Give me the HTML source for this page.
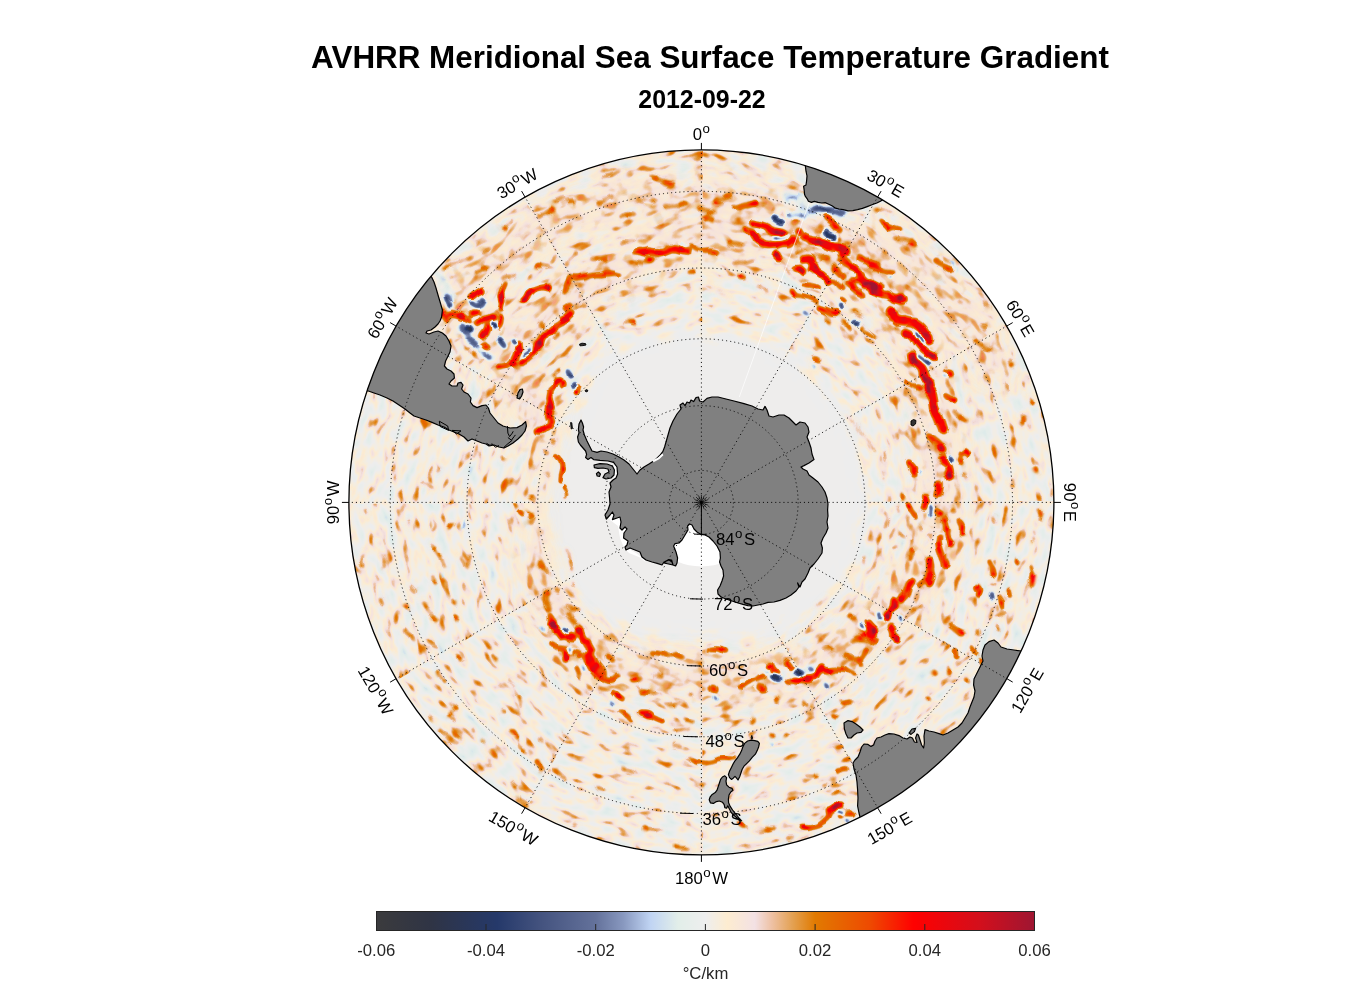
<!DOCTYPE html>
<html><head><meta charset="utf-8"><title>AVHRR Meridional Sea Surface Temperature Gradient</title>
<style>
html,body{margin:0;padding:0;background:#fff;}
body{width:1356px;height:1000px;overflow:hidden;font-family:"Liberation Sans",Arial,sans-serif;}
svg{display:block}
text{font-family:"Liberation Sans",Arial,sans-serif;fill:#000}
.t{font-weight:bold;text-anchor:middle}
.lab{font-size:16.7px;text-anchor:middle}
.plab{font-size:16.7px;text-anchor:start}
.cb{font-size:16.7px;text-anchor:middle;fill:#262626}
.grid{fill:none;stroke:#000;stroke-width:1;stroke-dasharray:1.1 3;stroke-opacity:.9}
</style></head><body>
<svg width="1356" height="1000" viewBox="0 0 1356 1000">

<defs>
<clipPath id="disc"><circle cx="701.4" cy="502.4" r="352.5"/></clipPath>
<linearGradient id="cbg" x1="0" x2="1" y1="0" y2="0">
<stop offset="0.0000" stop-color="#3b3b3d"/>
<stop offset="0.0833" stop-color="#2f3445"/>
<stop offset="0.1833" stop-color="#25396a"/>
<stop offset="0.2500" stop-color="#44537f"/>
<stop offset="0.3333" stop-color="#64729b"/>
<stop offset="0.3750" stop-color="#8898bf"/>
<stop offset="0.4167" stop-color="#c0d4f3"/>
<stop offset="0.4583" stop-color="#e2eee9"/>
<stop offset="0.5000" stop-color="#eeeeee"/>
<stop offset="0.5333" stop-color="#fdecd0"/>
<stop offset="0.5750" stop-color="#f3e1e4"/>
<stop offset="0.6000" stop-color="#eec2a6"/>
<stop offset="0.6333" stop-color="#e3a050"/>
<stop offset="0.6667" stop-color="#e17a00"/>
<stop offset="0.7500" stop-color="#ee4a00"/>
<stop offset="0.8167" stop-color="#ff0000"/>
<stop offset="0.9167" stop-color="#d30f1c"/>
<stop offset="1.0000" stop-color="#9e1632"/>
</linearGradient>
<filter id="fld0" filterUnits="userSpaceOnUse" x="345" y="146" width="713" height="713" color-interpolation-filters="sRGB">
<feTurbulence type="fractalNoise" baseFrequency="0.05 0.105" numOctaves="2" seed="7" result="n"/>
<feColorMatrix in="n" type="matrix" values="1 0 0 0 0 1 0 0 0 0 1 0 0 0 0 0 0 0 0 1" result="ng0"/>
<feComponentTransfer in="ng0" result="ng"><feFuncR type="table" tableValues="0.328 0.328 0.328 0.330 0.342 0.354 0.365 0.377 0.388 0.399 0.410 0.421 0.431 0.441 0.451 0.461 0.470 0.479 0.487 0.494 0.500 0.510 0.526 0.545 0.566 0.589 0.614 0.640 0.668 0.697 0.727 0.758 0.790 0.823 0.857 0.892 0.928 0.964 0.970 0.970 0.970"/><feFuncG type="table" tableValues="0.328 0.328 0.328 0.330 0.342 0.354 0.365 0.377 0.388 0.399 0.410 0.421 0.431 0.441 0.451 0.461 0.470 0.479 0.487 0.494 0.500 0.510 0.526 0.545 0.566 0.589 0.614 0.640 0.668 0.697 0.727 0.758 0.790 0.823 0.857 0.892 0.928 0.964 0.970 0.970 0.970"/><feFuncB type="table" tableValues="0.328 0.328 0.328 0.330 0.342 0.354 0.365 0.377 0.388 0.399 0.410 0.421 0.431 0.441 0.451 0.461 0.470 0.479 0.487 0.494 0.500 0.510 0.526 0.545 0.566 0.589 0.614 0.640 0.668 0.697 0.727 0.758 0.790 0.823 0.857 0.892 0.928 0.964 0.970 0.970 0.970"/></feComponentTransfer>
<feGaussianBlur in="SourceGraphic" stdDeviation="1.306" result="s"/>
<feColorMatrix in="s" type="matrix" values="0.45 0.54 0.6 0 0  0.45 0.54 0.6 0 0  0.45 0.54 0.6 0 0  0 0 0 0 1" result="amp"/>
<feComposite in="ng" in2="amp" operator="arithmetic" k1="1" k2="0" k3="-0.5" k4="0.5" result="nm"/>
<feColorMatrix in="s" type="matrix" values="0.5 0.022 -0.5 0 0.5  0.5 0.022 -0.5 0 0.5  0.5 0.022 -0.5 0 0.5  0 0 0 0 1" result="sb"/>
<feComposite in="nm" in2="sb" operator="arithmetic" k1="0" k2="1" k3="0.72" k4="-0.36" result="u"/>
<feComponentTransfer in="u">
<feFuncR type="table" tableValues="0.231 0.223 0.214 0.205 0.196 0.187 0.180 0.174 0.168 0.162 0.156 0.150 0.153 0.181 0.210 0.238 0.267 0.290 0.314 0.337 0.361 0.384 0.427 0.480 0.533 0.616 0.698 0.770 0.820 0.870 0.898 0.916 0.933 0.961 0.988 0.979 0.965 0.950 0.938 0.921 0.901 0.888 0.885 0.886 0.895 0.905 0.914 0.924 0.933 0.949 0.965 0.980 0.996 0.980 0.953 0.926 0.899 0.872 0.845 0.814 0.775 0.737 0.698 0.659 0.620"/>
<feFuncG type="table" tableValues="0.231 0.226 0.221 0.216 0.211 0.206 0.206 0.209 0.212 0.215 0.218 0.221 0.230 0.254 0.278 0.302 0.325 0.348 0.371 0.394 0.417 0.439 0.484 0.540 0.596 0.684 0.773 0.844 0.882 0.921 0.933 0.933 0.933 0.930 0.926 0.911 0.895 0.867 0.791 0.723 0.661 0.595 0.525 0.467 0.431 0.396 0.361 0.325 0.290 0.222 0.154 0.086 0.018 0.007 0.016 0.025 0.034 0.044 0.053 0.061 0.066 0.071 0.076 0.081 0.086"/>
<feFuncB type="table" tableValues="0.239 0.245 0.251 0.257 0.263 0.269 0.286 0.308 0.331 0.354 0.376 0.399 0.421 0.440 0.459 0.479 0.498 0.519 0.539 0.560 0.580 0.601 0.643 0.696 0.749 0.825 0.902 0.948 0.933 0.919 0.919 0.926 0.933 0.878 0.823 0.841 0.871 0.864 0.712 0.556 0.398 0.245 0.098 0.000 0.000 0.000 0.000 0.000 0.000 0.000 0.000 0.000 0.000 0.013 0.030 0.047 0.064 0.081 0.098 0.115 0.131 0.148 0.164 0.180 0.196"/>
<feFuncA type="linear" slope="0" intercept="1"/>
</feComponentTransfer>
</filter>

<filter id="fld1" filterUnits="userSpaceOnUse" x="345" y="146" width="713" height="713" color-interpolation-filters="sRGB">
<feTurbulence type="fractalNoise" baseFrequency="0.05 0.105" numOctaves="2" seed="10" result="n"/>
<feColorMatrix in="n" type="matrix" values="1 0 0 0 0 1 0 0 0 0 1 0 0 0 0 0 0 0 0 1" result="ng0"/>
<feComponentTransfer in="ng0" result="ng"><feFuncR type="table" tableValues="0.328 0.328 0.328 0.330 0.342 0.354 0.365 0.377 0.388 0.399 0.410 0.421 0.431 0.441 0.451 0.461 0.470 0.479 0.487 0.494 0.500 0.510 0.526 0.545 0.566 0.589 0.614 0.640 0.668 0.697 0.727 0.758 0.790 0.823 0.857 0.892 0.928 0.964 0.970 0.970 0.970"/><feFuncG type="table" tableValues="0.328 0.328 0.328 0.330 0.342 0.354 0.365 0.377 0.388 0.399 0.410 0.421 0.431 0.441 0.451 0.461 0.470 0.479 0.487 0.494 0.500 0.510 0.526 0.545 0.566 0.589 0.614 0.640 0.668 0.697 0.727 0.758 0.790 0.823 0.857 0.892 0.928 0.964 0.970 0.970 0.970"/><feFuncB type="table" tableValues="0.328 0.328 0.328 0.330 0.342 0.354 0.365 0.377 0.388 0.399 0.410 0.421 0.431 0.441 0.451 0.461 0.470 0.479 0.487 0.494 0.500 0.510 0.526 0.545 0.566 0.589 0.614 0.640 0.668 0.697 0.727 0.758 0.790 0.823 0.857 0.892 0.928 0.964 0.970 0.970 0.970"/></feComponentTransfer>
<feGaussianBlur in="SourceGraphic" stdDeviation="1.131" result="s"/>
<feColorMatrix in="s" type="matrix" values="0.45 0.54 0.6 0 0  0.45 0.54 0.6 0 0  0.45 0.54 0.6 0 0  0 0 0 0 1" result="amp"/>
<feComposite in="ng" in2="amp" operator="arithmetic" k1="1" k2="0" k3="-0.5" k4="0.5" result="nm"/>
<feColorMatrix in="s" type="matrix" values="0.5 0.022 -0.5 0 0.5  0.5 0.022 -0.5 0 0.5  0.5 0.022 -0.5 0 0.5  0 0 0 0 1" result="sb"/>
<feComposite in="nm" in2="sb" operator="arithmetic" k1="0" k2="1" k3="0.72" k4="-0.36" result="u"/>
<feComponentTransfer in="u">
<feFuncR type="table" tableValues="0.231 0.223 0.214 0.205 0.196 0.187 0.180 0.174 0.168 0.162 0.156 0.150 0.153 0.181 0.210 0.238 0.267 0.290 0.314 0.337 0.361 0.384 0.427 0.480 0.533 0.616 0.698 0.770 0.820 0.870 0.898 0.916 0.933 0.961 0.988 0.979 0.965 0.950 0.938 0.921 0.901 0.888 0.885 0.886 0.895 0.905 0.914 0.924 0.933 0.949 0.965 0.980 0.996 0.980 0.953 0.926 0.899 0.872 0.845 0.814 0.775 0.737 0.698 0.659 0.620"/>
<feFuncG type="table" tableValues="0.231 0.226 0.221 0.216 0.211 0.206 0.206 0.209 0.212 0.215 0.218 0.221 0.230 0.254 0.278 0.302 0.325 0.348 0.371 0.394 0.417 0.439 0.484 0.540 0.596 0.684 0.773 0.844 0.882 0.921 0.933 0.933 0.933 0.930 0.926 0.911 0.895 0.867 0.791 0.723 0.661 0.595 0.525 0.467 0.431 0.396 0.361 0.325 0.290 0.222 0.154 0.086 0.018 0.007 0.016 0.025 0.034 0.044 0.053 0.061 0.066 0.071 0.076 0.081 0.086"/>
<feFuncB type="table" tableValues="0.239 0.245 0.251 0.257 0.263 0.269 0.286 0.308 0.331 0.354 0.376 0.399 0.421 0.440 0.459 0.479 0.498 0.519 0.539 0.560 0.580 0.601 0.643 0.696 0.749 0.825 0.902 0.948 0.933 0.919 0.919 0.926 0.933 0.878 0.823 0.841 0.871 0.864 0.712 0.556 0.398 0.245 0.098 0.000 0.000 0.000 0.000 0.000 0.000 0.000 0.000 0.000 0.000 0.013 0.030 0.047 0.064 0.081 0.098 0.115 0.131 0.148 0.164 0.180 0.196"/>
<feFuncA type="linear" slope="0" intercept="1"/>
</feComponentTransfer>
</filter>

<filter id="fld2" filterUnits="userSpaceOnUse" x="345" y="146" width="713" height="713" color-interpolation-filters="sRGB">
<feTurbulence type="fractalNoise" baseFrequency="0.05 0.105" numOctaves="2" seed="13" result="n"/>
<feColorMatrix in="n" type="matrix" values="1 0 0 0 0 1 0 0 0 0 1 0 0 0 0 0 0 0 0 1" result="ng0"/>
<feComponentTransfer in="ng0" result="ng"><feFuncR type="table" tableValues="0.328 0.328 0.328 0.330 0.342 0.354 0.365 0.377 0.388 0.399 0.410 0.421 0.431 0.441 0.451 0.461 0.470 0.479 0.487 0.494 0.500 0.510 0.526 0.545 0.566 0.589 0.614 0.640 0.668 0.697 0.727 0.758 0.790 0.823 0.857 0.892 0.928 0.964 0.970 0.970 0.970"/><feFuncG type="table" tableValues="0.328 0.328 0.328 0.330 0.342 0.354 0.365 0.377 0.388 0.399 0.410 0.421 0.431 0.441 0.451 0.461 0.470 0.479 0.487 0.494 0.500 0.510 0.526 0.545 0.566 0.589 0.614 0.640 0.668 0.697 0.727 0.758 0.790 0.823 0.857 0.892 0.928 0.964 0.970 0.970 0.970"/><feFuncB type="table" tableValues="0.328 0.328 0.328 0.330 0.342 0.354 0.365 0.377 0.388 0.399 0.410 0.421 0.431 0.441 0.451 0.461 0.470 0.479 0.487 0.494 0.500 0.510 0.526 0.545 0.566 0.589 0.614 0.640 0.668 0.697 0.727 0.758 0.790 0.823 0.857 0.892 0.928 0.964 0.970 0.970 0.970"/></feComponentTransfer>
<feGaussianBlur in="SourceGraphic" stdDeviation="1.306" result="s"/>
<feColorMatrix in="s" type="matrix" values="0.45 0.54 0.6 0 0  0.45 0.54 0.6 0 0  0.45 0.54 0.6 0 0  0 0 0 0 1" result="amp"/>
<feComposite in="ng" in2="amp" operator="arithmetic" k1="1" k2="0" k3="-0.5" k4="0.5" result="nm"/>
<feColorMatrix in="s" type="matrix" values="0.5 0.022 -0.5 0 0.5  0.5 0.022 -0.5 0 0.5  0.5 0.022 -0.5 0 0.5  0 0 0 0 1" result="sb"/>
<feComposite in="nm" in2="sb" operator="arithmetic" k1="0" k2="1" k3="0.72" k4="-0.36" result="u"/>
<feComponentTransfer in="u">
<feFuncR type="table" tableValues="0.231 0.223 0.214 0.205 0.196 0.187 0.180 0.174 0.168 0.162 0.156 0.150 0.153 0.181 0.210 0.238 0.267 0.290 0.314 0.337 0.361 0.384 0.427 0.480 0.533 0.616 0.698 0.770 0.820 0.870 0.898 0.916 0.933 0.961 0.988 0.979 0.965 0.950 0.938 0.921 0.901 0.888 0.885 0.886 0.895 0.905 0.914 0.924 0.933 0.949 0.965 0.980 0.996 0.980 0.953 0.926 0.899 0.872 0.845 0.814 0.775 0.737 0.698 0.659 0.620"/>
<feFuncG type="table" tableValues="0.231 0.226 0.221 0.216 0.211 0.206 0.206 0.209 0.212 0.215 0.218 0.221 0.230 0.254 0.278 0.302 0.325 0.348 0.371 0.394 0.417 0.439 0.484 0.540 0.596 0.684 0.773 0.844 0.882 0.921 0.933 0.933 0.933 0.930 0.926 0.911 0.895 0.867 0.791 0.723 0.661 0.595 0.525 0.467 0.431 0.396 0.361 0.325 0.290 0.222 0.154 0.086 0.018 0.007 0.016 0.025 0.034 0.044 0.053 0.061 0.066 0.071 0.076 0.081 0.086"/>
<feFuncB type="table" tableValues="0.239 0.245 0.251 0.257 0.263 0.269 0.286 0.308 0.331 0.354 0.376 0.399 0.421 0.440 0.459 0.479 0.498 0.519 0.539 0.560 0.580 0.601 0.643 0.696 0.749 0.825 0.902 0.948 0.933 0.919 0.919 0.926 0.933 0.878 0.823 0.841 0.871 0.864 0.712 0.556 0.398 0.245 0.098 0.000 0.000 0.000 0.000 0.000 0.000 0.000 0.000 0.000 0.000 0.013 0.030 0.047 0.064 0.081 0.098 0.115 0.131 0.148 0.164 0.180 0.196"/>
<feFuncA type="linear" slope="0" intercept="1"/>
</feComponentTransfer>
</filter>

<filter id="fld3" filterUnits="userSpaceOnUse" x="345" y="146" width="713" height="713" color-interpolation-filters="sRGB">
<feTurbulence type="fractalNoise" baseFrequency="0.05 0.105" numOctaves="2" seed="16" result="n"/>
<feColorMatrix in="n" type="matrix" values="1 0 0 0 0 1 0 0 0 0 1 0 0 0 0 0 0 0 0 1" result="ng0"/>
<feComponentTransfer in="ng0" result="ng"><feFuncR type="table" tableValues="0.328 0.328 0.328 0.330 0.342 0.354 0.365 0.377 0.388 0.399 0.410 0.421 0.431 0.441 0.451 0.461 0.470 0.479 0.487 0.494 0.500 0.510 0.526 0.545 0.566 0.589 0.614 0.640 0.668 0.697 0.727 0.758 0.790 0.823 0.857 0.892 0.928 0.964 0.970 0.970 0.970"/><feFuncG type="table" tableValues="0.328 0.328 0.328 0.330 0.342 0.354 0.365 0.377 0.388 0.399 0.410 0.421 0.431 0.441 0.451 0.461 0.470 0.479 0.487 0.494 0.500 0.510 0.526 0.545 0.566 0.589 0.614 0.640 0.668 0.697 0.727 0.758 0.790 0.823 0.857 0.892 0.928 0.964 0.970 0.970 0.970"/><feFuncB type="table" tableValues="0.328 0.328 0.328 0.330 0.342 0.354 0.365 0.377 0.388 0.399 0.410 0.421 0.431 0.441 0.451 0.461 0.470 0.479 0.487 0.494 0.500 0.510 0.526 0.545 0.566 0.589 0.614 0.640 0.668 0.697 0.727 0.758 0.790 0.823 0.857 0.892 0.928 0.964 0.970 0.970 0.970"/></feComponentTransfer>
<feGaussianBlur in="SourceGraphic" stdDeviation="1.306" result="s"/>
<feColorMatrix in="s" type="matrix" values="0.45 0.54 0.6 0 0  0.45 0.54 0.6 0 0  0.45 0.54 0.6 0 0  0 0 0 0 1" result="amp"/>
<feComposite in="ng" in2="amp" operator="arithmetic" k1="1" k2="0" k3="-0.5" k4="0.5" result="nm"/>
<feColorMatrix in="s" type="matrix" values="0.5 0.022 -0.5 0 0.5  0.5 0.022 -0.5 0 0.5  0.5 0.022 -0.5 0 0.5  0 0 0 0 1" result="sb"/>
<feComposite in="nm" in2="sb" operator="arithmetic" k1="0" k2="1" k3="0.72" k4="-0.36" result="u"/>
<feComponentTransfer in="u">
<feFuncR type="table" tableValues="0.231 0.223 0.214 0.205 0.196 0.187 0.180 0.174 0.168 0.162 0.156 0.150 0.153 0.181 0.210 0.238 0.267 0.290 0.314 0.337 0.361 0.384 0.427 0.480 0.533 0.616 0.698 0.770 0.820 0.870 0.898 0.916 0.933 0.961 0.988 0.979 0.965 0.950 0.938 0.921 0.901 0.888 0.885 0.886 0.895 0.905 0.914 0.924 0.933 0.949 0.965 0.980 0.996 0.980 0.953 0.926 0.899 0.872 0.845 0.814 0.775 0.737 0.698 0.659 0.620"/>
<feFuncG type="table" tableValues="0.231 0.226 0.221 0.216 0.211 0.206 0.206 0.209 0.212 0.215 0.218 0.221 0.230 0.254 0.278 0.302 0.325 0.348 0.371 0.394 0.417 0.439 0.484 0.540 0.596 0.684 0.773 0.844 0.882 0.921 0.933 0.933 0.933 0.930 0.926 0.911 0.895 0.867 0.791 0.723 0.661 0.595 0.525 0.467 0.431 0.396 0.361 0.325 0.290 0.222 0.154 0.086 0.018 0.007 0.016 0.025 0.034 0.044 0.053 0.061 0.066 0.071 0.076 0.081 0.086"/>
<feFuncB type="table" tableValues="0.239 0.245 0.251 0.257 0.263 0.269 0.286 0.308 0.331 0.354 0.376 0.399 0.421 0.440 0.459 0.479 0.498 0.519 0.539 0.560 0.580 0.601 0.643 0.696 0.749 0.825 0.902 0.948 0.933 0.919 0.919 0.926 0.933 0.878 0.823 0.841 0.871 0.864 0.712 0.556 0.398 0.245 0.098 0.000 0.000 0.000 0.000 0.000 0.000 0.000 0.000 0.000 0.000 0.013 0.030 0.047 0.064 0.081 0.098 0.115 0.131 0.148 0.164 0.180 0.196"/>
<feFuncA type="linear" slope="0" intercept="1"/>
</feComponentTransfer>
</filter>

<filter id="fld4" filterUnits="userSpaceOnUse" x="345" y="146" width="713" height="713" color-interpolation-filters="sRGB">
<feTurbulence type="fractalNoise" baseFrequency="0.05 0.105" numOctaves="2" seed="19" result="n"/>
<feColorMatrix in="n" type="matrix" values="1 0 0 0 0 1 0 0 0 0 1 0 0 0 0 0 0 0 0 1" result="ng0"/>
<feComponentTransfer in="ng0" result="ng"><feFuncR type="table" tableValues="0.328 0.328 0.328 0.330 0.342 0.354 0.365 0.377 0.388 0.399 0.410 0.421 0.431 0.441 0.451 0.461 0.470 0.479 0.487 0.494 0.500 0.510 0.526 0.545 0.566 0.589 0.614 0.640 0.668 0.697 0.727 0.758 0.790 0.823 0.857 0.892 0.928 0.964 0.970 0.970 0.970"/><feFuncG type="table" tableValues="0.328 0.328 0.328 0.330 0.342 0.354 0.365 0.377 0.388 0.399 0.410 0.421 0.431 0.441 0.451 0.461 0.470 0.479 0.487 0.494 0.500 0.510 0.526 0.545 0.566 0.589 0.614 0.640 0.668 0.697 0.727 0.758 0.790 0.823 0.857 0.892 0.928 0.964 0.970 0.970 0.970"/><feFuncB type="table" tableValues="0.328 0.328 0.328 0.330 0.342 0.354 0.365 0.377 0.388 0.399 0.410 0.421 0.431 0.441 0.451 0.461 0.470 0.479 0.487 0.494 0.500 0.510 0.526 0.545 0.566 0.589 0.614 0.640 0.668 0.697 0.727 0.758 0.790 0.823 0.857 0.892 0.928 0.964 0.970 0.970 0.970"/></feComponentTransfer>
<feGaussianBlur in="SourceGraphic" stdDeviation="1.131" result="s"/>
<feColorMatrix in="s" type="matrix" values="0.45 0.54 0.6 0 0  0.45 0.54 0.6 0 0  0.45 0.54 0.6 0 0  0 0 0 0 1" result="amp"/>
<feComposite in="ng" in2="amp" operator="arithmetic" k1="1" k2="0" k3="-0.5" k4="0.5" result="nm"/>
<feColorMatrix in="s" type="matrix" values="0.5 0.022 -0.5 0 0.5  0.5 0.022 -0.5 0 0.5  0.5 0.022 -0.5 0 0.5  0 0 0 0 1" result="sb"/>
<feComposite in="nm" in2="sb" operator="arithmetic" k1="0" k2="1" k3="0.72" k4="-0.36" result="u"/>
<feComponentTransfer in="u">
<feFuncR type="table" tableValues="0.231 0.223 0.214 0.205 0.196 0.187 0.180 0.174 0.168 0.162 0.156 0.150 0.153 0.181 0.210 0.238 0.267 0.290 0.314 0.337 0.361 0.384 0.427 0.480 0.533 0.616 0.698 0.770 0.820 0.870 0.898 0.916 0.933 0.961 0.988 0.979 0.965 0.950 0.938 0.921 0.901 0.888 0.885 0.886 0.895 0.905 0.914 0.924 0.933 0.949 0.965 0.980 0.996 0.980 0.953 0.926 0.899 0.872 0.845 0.814 0.775 0.737 0.698 0.659 0.620"/>
<feFuncG type="table" tableValues="0.231 0.226 0.221 0.216 0.211 0.206 0.206 0.209 0.212 0.215 0.218 0.221 0.230 0.254 0.278 0.302 0.325 0.348 0.371 0.394 0.417 0.439 0.484 0.540 0.596 0.684 0.773 0.844 0.882 0.921 0.933 0.933 0.933 0.930 0.926 0.911 0.895 0.867 0.791 0.723 0.661 0.595 0.525 0.467 0.431 0.396 0.361 0.325 0.290 0.222 0.154 0.086 0.018 0.007 0.016 0.025 0.034 0.044 0.053 0.061 0.066 0.071 0.076 0.081 0.086"/>
<feFuncB type="table" tableValues="0.239 0.245 0.251 0.257 0.263 0.269 0.286 0.308 0.331 0.354 0.376 0.399 0.421 0.440 0.459 0.479 0.498 0.519 0.539 0.560 0.580 0.601 0.643 0.696 0.749 0.825 0.902 0.948 0.933 0.919 0.919 0.926 0.933 0.878 0.823 0.841 0.871 0.864 0.712 0.556 0.398 0.245 0.098 0.000 0.000 0.000 0.000 0.000 0.000 0.000 0.000 0.000 0.000 0.013 0.030 0.047 0.064 0.081 0.098 0.115 0.131 0.148 0.164 0.180 0.196"/>
<feFuncA type="linear" slope="0" intercept="1"/>
</feComponentTransfer>
</filter>

<filter id="fld5" filterUnits="userSpaceOnUse" x="345" y="146" width="713" height="713" color-interpolation-filters="sRGB">
<feTurbulence type="fractalNoise" baseFrequency="0.05 0.105" numOctaves="2" seed="22" result="n"/>
<feColorMatrix in="n" type="matrix" values="1 0 0 0 0 1 0 0 0 0 1 0 0 0 0 0 0 0 0 1" result="ng0"/>
<feComponentTransfer in="ng0" result="ng"><feFuncR type="table" tableValues="0.328 0.328 0.328 0.330 0.342 0.354 0.365 0.377 0.388 0.399 0.410 0.421 0.431 0.441 0.451 0.461 0.470 0.479 0.487 0.494 0.500 0.510 0.526 0.545 0.566 0.589 0.614 0.640 0.668 0.697 0.727 0.758 0.790 0.823 0.857 0.892 0.928 0.964 0.970 0.970 0.970"/><feFuncG type="table" tableValues="0.328 0.328 0.328 0.330 0.342 0.354 0.365 0.377 0.388 0.399 0.410 0.421 0.431 0.441 0.451 0.461 0.470 0.479 0.487 0.494 0.500 0.510 0.526 0.545 0.566 0.589 0.614 0.640 0.668 0.697 0.727 0.758 0.790 0.823 0.857 0.892 0.928 0.964 0.970 0.970 0.970"/><feFuncB type="table" tableValues="0.328 0.328 0.328 0.330 0.342 0.354 0.365 0.377 0.388 0.399 0.410 0.421 0.431 0.441 0.451 0.461 0.470 0.479 0.487 0.494 0.500 0.510 0.526 0.545 0.566 0.589 0.614 0.640 0.668 0.697 0.727 0.758 0.790 0.823 0.857 0.892 0.928 0.964 0.970 0.970 0.970"/></feComponentTransfer>
<feGaussianBlur in="SourceGraphic" stdDeviation="1.306" result="s"/>
<feColorMatrix in="s" type="matrix" values="0.45 0.54 0.6 0 0  0.45 0.54 0.6 0 0  0.45 0.54 0.6 0 0  0 0 0 0 1" result="amp"/>
<feComposite in="ng" in2="amp" operator="arithmetic" k1="1" k2="0" k3="-0.5" k4="0.5" result="nm"/>
<feColorMatrix in="s" type="matrix" values="0.5 0.022 -0.5 0 0.5  0.5 0.022 -0.5 0 0.5  0.5 0.022 -0.5 0 0.5  0 0 0 0 1" result="sb"/>
<feComposite in="nm" in2="sb" operator="arithmetic" k1="0" k2="1" k3="0.72" k4="-0.36" result="u"/>
<feComponentTransfer in="u">
<feFuncR type="table" tableValues="0.231 0.223 0.214 0.205 0.196 0.187 0.180 0.174 0.168 0.162 0.156 0.150 0.153 0.181 0.210 0.238 0.267 0.290 0.314 0.337 0.361 0.384 0.427 0.480 0.533 0.616 0.698 0.770 0.820 0.870 0.898 0.916 0.933 0.961 0.988 0.979 0.965 0.950 0.938 0.921 0.901 0.888 0.885 0.886 0.895 0.905 0.914 0.924 0.933 0.949 0.965 0.980 0.996 0.980 0.953 0.926 0.899 0.872 0.845 0.814 0.775 0.737 0.698 0.659 0.620"/>
<feFuncG type="table" tableValues="0.231 0.226 0.221 0.216 0.211 0.206 0.206 0.209 0.212 0.215 0.218 0.221 0.230 0.254 0.278 0.302 0.325 0.348 0.371 0.394 0.417 0.439 0.484 0.540 0.596 0.684 0.773 0.844 0.882 0.921 0.933 0.933 0.933 0.930 0.926 0.911 0.895 0.867 0.791 0.723 0.661 0.595 0.525 0.467 0.431 0.396 0.361 0.325 0.290 0.222 0.154 0.086 0.018 0.007 0.016 0.025 0.034 0.044 0.053 0.061 0.066 0.071 0.076 0.081 0.086"/>
<feFuncB type="table" tableValues="0.239 0.245 0.251 0.257 0.263 0.269 0.286 0.308 0.331 0.354 0.376 0.399 0.421 0.440 0.459 0.479 0.498 0.519 0.539 0.560 0.580 0.601 0.643 0.696 0.749 0.825 0.902 0.948 0.933 0.919 0.919 0.926 0.933 0.878 0.823 0.841 0.871 0.864 0.712 0.556 0.398 0.245 0.098 0.000 0.000 0.000 0.000 0.000 0.000 0.000 0.000 0.000 0.000 0.013 0.030 0.047 0.064 0.081 0.098 0.115 0.131 0.148 0.164 0.180 0.196"/>
<feFuncA type="linear" slope="0" intercept="1"/>
</feComponentTransfer>
</filter>

<filter id="fld6" filterUnits="userSpaceOnUse" x="345" y="146" width="713" height="713" color-interpolation-filters="sRGB">
<feTurbulence type="fractalNoise" baseFrequency="0.05 0.105" numOctaves="2" seed="25" result="n"/>
<feColorMatrix in="n" type="matrix" values="1 0 0 0 0 1 0 0 0 0 1 0 0 0 0 0 0 0 0 1" result="ng0"/>
<feComponentTransfer in="ng0" result="ng"><feFuncR type="table" tableValues="0.328 0.328 0.328 0.330 0.342 0.354 0.365 0.377 0.388 0.399 0.410 0.421 0.431 0.441 0.451 0.461 0.470 0.479 0.487 0.494 0.500 0.510 0.526 0.545 0.566 0.589 0.614 0.640 0.668 0.697 0.727 0.758 0.790 0.823 0.857 0.892 0.928 0.964 0.970 0.970 0.970"/><feFuncG type="table" tableValues="0.328 0.328 0.328 0.330 0.342 0.354 0.365 0.377 0.388 0.399 0.410 0.421 0.431 0.441 0.451 0.461 0.470 0.479 0.487 0.494 0.500 0.510 0.526 0.545 0.566 0.589 0.614 0.640 0.668 0.697 0.727 0.758 0.790 0.823 0.857 0.892 0.928 0.964 0.970 0.970 0.970"/><feFuncB type="table" tableValues="0.328 0.328 0.328 0.330 0.342 0.354 0.365 0.377 0.388 0.399 0.410 0.421 0.431 0.441 0.451 0.461 0.470 0.479 0.487 0.494 0.500 0.510 0.526 0.545 0.566 0.589 0.614 0.640 0.668 0.697 0.727 0.758 0.790 0.823 0.857 0.892 0.928 0.964 0.970 0.970 0.970"/></feComponentTransfer>
<feGaussianBlur in="SourceGraphic" stdDeviation="1.306" result="s"/>
<feColorMatrix in="s" type="matrix" values="0.45 0.54 0.6 0 0  0.45 0.54 0.6 0 0  0.45 0.54 0.6 0 0  0 0 0 0 1" result="amp"/>
<feComposite in="ng" in2="amp" operator="arithmetic" k1="1" k2="0" k3="-0.5" k4="0.5" result="nm"/>
<feColorMatrix in="s" type="matrix" values="0.5 0.022 -0.5 0 0.5  0.5 0.022 -0.5 0 0.5  0.5 0.022 -0.5 0 0.5  0 0 0 0 1" result="sb"/>
<feComposite in="nm" in2="sb" operator="arithmetic" k1="0" k2="1" k3="0.72" k4="-0.36" result="u"/>
<feComponentTransfer in="u">
<feFuncR type="table" tableValues="0.231 0.223 0.214 0.205 0.196 0.187 0.180 0.174 0.168 0.162 0.156 0.150 0.153 0.181 0.210 0.238 0.267 0.290 0.314 0.337 0.361 0.384 0.427 0.480 0.533 0.616 0.698 0.770 0.820 0.870 0.898 0.916 0.933 0.961 0.988 0.979 0.965 0.950 0.938 0.921 0.901 0.888 0.885 0.886 0.895 0.905 0.914 0.924 0.933 0.949 0.965 0.980 0.996 0.980 0.953 0.926 0.899 0.872 0.845 0.814 0.775 0.737 0.698 0.659 0.620"/>
<feFuncG type="table" tableValues="0.231 0.226 0.221 0.216 0.211 0.206 0.206 0.209 0.212 0.215 0.218 0.221 0.230 0.254 0.278 0.302 0.325 0.348 0.371 0.394 0.417 0.439 0.484 0.540 0.596 0.684 0.773 0.844 0.882 0.921 0.933 0.933 0.933 0.930 0.926 0.911 0.895 0.867 0.791 0.723 0.661 0.595 0.525 0.467 0.431 0.396 0.361 0.325 0.290 0.222 0.154 0.086 0.018 0.007 0.016 0.025 0.034 0.044 0.053 0.061 0.066 0.071 0.076 0.081 0.086"/>
<feFuncB type="table" tableValues="0.239 0.245 0.251 0.257 0.263 0.269 0.286 0.308 0.331 0.354 0.376 0.399 0.421 0.440 0.459 0.479 0.498 0.519 0.539 0.560 0.580 0.601 0.643 0.696 0.749 0.825 0.902 0.948 0.933 0.919 0.919 0.926 0.933 0.878 0.823 0.841 0.871 0.864 0.712 0.556 0.398 0.245 0.098 0.000 0.000 0.000 0.000 0.000 0.000 0.000 0.000 0.000 0.000 0.013 0.030 0.047 0.064 0.081 0.098 0.115 0.131 0.148 0.164 0.180 0.196"/>
<feFuncA type="linear" slope="0" intercept="1"/>
</feComponentTransfer>
</filter>

<filter id="fld7" filterUnits="userSpaceOnUse" x="345" y="146" width="713" height="713" color-interpolation-filters="sRGB">
<feTurbulence type="fractalNoise" baseFrequency="0.05 0.105" numOctaves="2" seed="28" result="n"/>
<feColorMatrix in="n" type="matrix" values="1 0 0 0 0 1 0 0 0 0 1 0 0 0 0 0 0 0 0 1" result="ng0"/>
<feComponentTransfer in="ng0" result="ng"><feFuncR type="table" tableValues="0.328 0.328 0.328 0.330 0.342 0.354 0.365 0.377 0.388 0.399 0.410 0.421 0.431 0.441 0.451 0.461 0.470 0.479 0.487 0.494 0.500 0.510 0.526 0.545 0.566 0.589 0.614 0.640 0.668 0.697 0.727 0.758 0.790 0.823 0.857 0.892 0.928 0.964 0.970 0.970 0.970"/><feFuncG type="table" tableValues="0.328 0.328 0.328 0.330 0.342 0.354 0.365 0.377 0.388 0.399 0.410 0.421 0.431 0.441 0.451 0.461 0.470 0.479 0.487 0.494 0.500 0.510 0.526 0.545 0.566 0.589 0.614 0.640 0.668 0.697 0.727 0.758 0.790 0.823 0.857 0.892 0.928 0.964 0.970 0.970 0.970"/><feFuncB type="table" tableValues="0.328 0.328 0.328 0.330 0.342 0.354 0.365 0.377 0.388 0.399 0.410 0.421 0.431 0.441 0.451 0.461 0.470 0.479 0.487 0.494 0.500 0.510 0.526 0.545 0.566 0.589 0.614 0.640 0.668 0.697 0.727 0.758 0.790 0.823 0.857 0.892 0.928 0.964 0.970 0.970 0.970"/></feComponentTransfer>
<feGaussianBlur in="SourceGraphic" stdDeviation="1.131" result="s"/>
<feColorMatrix in="s" type="matrix" values="0.45 0.54 0.6 0 0  0.45 0.54 0.6 0 0  0.45 0.54 0.6 0 0  0 0 0 0 1" result="amp"/>
<feComposite in="ng" in2="amp" operator="arithmetic" k1="1" k2="0" k3="-0.5" k4="0.5" result="nm"/>
<feColorMatrix in="s" type="matrix" values="0.5 0.022 -0.5 0 0.5  0.5 0.022 -0.5 0 0.5  0.5 0.022 -0.5 0 0.5  0 0 0 0 1" result="sb"/>
<feComposite in="nm" in2="sb" operator="arithmetic" k1="0" k2="1" k3="0.72" k4="-0.36" result="u"/>
<feComponentTransfer in="u">
<feFuncR type="table" tableValues="0.231 0.223 0.214 0.205 0.196 0.187 0.180 0.174 0.168 0.162 0.156 0.150 0.153 0.181 0.210 0.238 0.267 0.290 0.314 0.337 0.361 0.384 0.427 0.480 0.533 0.616 0.698 0.770 0.820 0.870 0.898 0.916 0.933 0.961 0.988 0.979 0.965 0.950 0.938 0.921 0.901 0.888 0.885 0.886 0.895 0.905 0.914 0.924 0.933 0.949 0.965 0.980 0.996 0.980 0.953 0.926 0.899 0.872 0.845 0.814 0.775 0.737 0.698 0.659 0.620"/>
<feFuncG type="table" tableValues="0.231 0.226 0.221 0.216 0.211 0.206 0.206 0.209 0.212 0.215 0.218 0.221 0.230 0.254 0.278 0.302 0.325 0.348 0.371 0.394 0.417 0.439 0.484 0.540 0.596 0.684 0.773 0.844 0.882 0.921 0.933 0.933 0.933 0.930 0.926 0.911 0.895 0.867 0.791 0.723 0.661 0.595 0.525 0.467 0.431 0.396 0.361 0.325 0.290 0.222 0.154 0.086 0.018 0.007 0.016 0.025 0.034 0.044 0.053 0.061 0.066 0.071 0.076 0.081 0.086"/>
<feFuncB type="table" tableValues="0.239 0.245 0.251 0.257 0.263 0.269 0.286 0.308 0.331 0.354 0.376 0.399 0.421 0.440 0.459 0.479 0.498 0.519 0.539 0.560 0.580 0.601 0.643 0.696 0.749 0.825 0.902 0.948 0.933 0.919 0.919 0.926 0.933 0.878 0.823 0.841 0.871 0.864 0.712 0.556 0.398 0.245 0.098 0.000 0.000 0.000 0.000 0.000 0.000 0.000 0.000 0.000 0.000 0.013 0.030 0.047 0.064 0.081 0.098 0.115 0.131 0.148 0.164 0.180 0.196"/>
<feFuncA type="linear" slope="0" intercept="1"/>
</feComponentTransfer>
</filter>

<filter id="fld8" filterUnits="userSpaceOnUse" x="345" y="146" width="713" height="713" color-interpolation-filters="sRGB">
<feTurbulence type="fractalNoise" baseFrequency="0.05 0.105" numOctaves="2" seed="31" result="n"/>
<feColorMatrix in="n" type="matrix" values="1 0 0 0 0 1 0 0 0 0 1 0 0 0 0 0 0 0 0 1" result="ng0"/>
<feComponentTransfer in="ng0" result="ng"><feFuncR type="table" tableValues="0.328 0.328 0.328 0.330 0.342 0.354 0.365 0.377 0.388 0.399 0.410 0.421 0.431 0.441 0.451 0.461 0.470 0.479 0.487 0.494 0.500 0.510 0.526 0.545 0.566 0.589 0.614 0.640 0.668 0.697 0.727 0.758 0.790 0.823 0.857 0.892 0.928 0.964 0.970 0.970 0.970"/><feFuncG type="table" tableValues="0.328 0.328 0.328 0.330 0.342 0.354 0.365 0.377 0.388 0.399 0.410 0.421 0.431 0.441 0.451 0.461 0.470 0.479 0.487 0.494 0.500 0.510 0.526 0.545 0.566 0.589 0.614 0.640 0.668 0.697 0.727 0.758 0.790 0.823 0.857 0.892 0.928 0.964 0.970 0.970 0.970"/><feFuncB type="table" tableValues="0.328 0.328 0.328 0.330 0.342 0.354 0.365 0.377 0.388 0.399 0.410 0.421 0.431 0.441 0.451 0.461 0.470 0.479 0.487 0.494 0.500 0.510 0.526 0.545 0.566 0.589 0.614 0.640 0.668 0.697 0.727 0.758 0.790 0.823 0.857 0.892 0.928 0.964 0.970 0.970 0.970"/></feComponentTransfer>
<feGaussianBlur in="SourceGraphic" stdDeviation="1.306" result="s"/>
<feColorMatrix in="s" type="matrix" values="0.45 0.54 0.6 0 0  0.45 0.54 0.6 0 0  0.45 0.54 0.6 0 0  0 0 0 0 1" result="amp"/>
<feComposite in="ng" in2="amp" operator="arithmetic" k1="1" k2="0" k3="-0.5" k4="0.5" result="nm"/>
<feColorMatrix in="s" type="matrix" values="0.5 0.022 -0.5 0 0.5  0.5 0.022 -0.5 0 0.5  0.5 0.022 -0.5 0 0.5  0 0 0 0 1" result="sb"/>
<feComposite in="nm" in2="sb" operator="arithmetic" k1="0" k2="1" k3="0.72" k4="-0.36" result="u"/>
<feComponentTransfer in="u">
<feFuncR type="table" tableValues="0.231 0.223 0.214 0.205 0.196 0.187 0.180 0.174 0.168 0.162 0.156 0.150 0.153 0.181 0.210 0.238 0.267 0.290 0.314 0.337 0.361 0.384 0.427 0.480 0.533 0.616 0.698 0.770 0.820 0.870 0.898 0.916 0.933 0.961 0.988 0.979 0.965 0.950 0.938 0.921 0.901 0.888 0.885 0.886 0.895 0.905 0.914 0.924 0.933 0.949 0.965 0.980 0.996 0.980 0.953 0.926 0.899 0.872 0.845 0.814 0.775 0.737 0.698 0.659 0.620"/>
<feFuncG type="table" tableValues="0.231 0.226 0.221 0.216 0.211 0.206 0.206 0.209 0.212 0.215 0.218 0.221 0.230 0.254 0.278 0.302 0.325 0.348 0.371 0.394 0.417 0.439 0.484 0.540 0.596 0.684 0.773 0.844 0.882 0.921 0.933 0.933 0.933 0.930 0.926 0.911 0.895 0.867 0.791 0.723 0.661 0.595 0.525 0.467 0.431 0.396 0.361 0.325 0.290 0.222 0.154 0.086 0.018 0.007 0.016 0.025 0.034 0.044 0.053 0.061 0.066 0.071 0.076 0.081 0.086"/>
<feFuncB type="table" tableValues="0.239 0.245 0.251 0.257 0.263 0.269 0.286 0.308 0.331 0.354 0.376 0.399 0.421 0.440 0.459 0.479 0.498 0.519 0.539 0.560 0.580 0.601 0.643 0.696 0.749 0.825 0.902 0.948 0.933 0.919 0.919 0.926 0.933 0.878 0.823 0.841 0.871 0.864 0.712 0.556 0.398 0.245 0.098 0.000 0.000 0.000 0.000 0.000 0.000 0.000 0.000 0.000 0.000 0.013 0.030 0.047 0.064 0.081 0.098 0.115 0.131 0.148 0.164 0.180 0.196"/>
<feFuncA type="linear" slope="0" intercept="1"/>
</feComponentTransfer>
</filter>

<filter id="fld9" filterUnits="userSpaceOnUse" x="345" y="146" width="713" height="713" color-interpolation-filters="sRGB">
<feTurbulence type="fractalNoise" baseFrequency="0.05 0.105" numOctaves="2" seed="34" result="n"/>
<feColorMatrix in="n" type="matrix" values="1 0 0 0 0 1 0 0 0 0 1 0 0 0 0 0 0 0 0 1" result="ng0"/>
<feComponentTransfer in="ng0" result="ng"><feFuncR type="table" tableValues="0.328 0.328 0.328 0.330 0.342 0.354 0.365 0.377 0.388 0.399 0.410 0.421 0.431 0.441 0.451 0.461 0.470 0.479 0.487 0.494 0.500 0.510 0.526 0.545 0.566 0.589 0.614 0.640 0.668 0.697 0.727 0.758 0.790 0.823 0.857 0.892 0.928 0.964 0.970 0.970 0.970"/><feFuncG type="table" tableValues="0.328 0.328 0.328 0.330 0.342 0.354 0.365 0.377 0.388 0.399 0.410 0.421 0.431 0.441 0.451 0.461 0.470 0.479 0.487 0.494 0.500 0.510 0.526 0.545 0.566 0.589 0.614 0.640 0.668 0.697 0.727 0.758 0.790 0.823 0.857 0.892 0.928 0.964 0.970 0.970 0.970"/><feFuncB type="table" tableValues="0.328 0.328 0.328 0.330 0.342 0.354 0.365 0.377 0.388 0.399 0.410 0.421 0.431 0.441 0.451 0.461 0.470 0.479 0.487 0.494 0.500 0.510 0.526 0.545 0.566 0.589 0.614 0.640 0.668 0.697 0.727 0.758 0.790 0.823 0.857 0.892 0.928 0.964 0.970 0.970 0.970"/></feComponentTransfer>
<feGaussianBlur in="SourceGraphic" stdDeviation="1.306" result="s"/>
<feColorMatrix in="s" type="matrix" values="0.45 0.54 0.6 0 0  0.45 0.54 0.6 0 0  0.45 0.54 0.6 0 0  0 0 0 0 1" result="amp"/>
<feComposite in="ng" in2="amp" operator="arithmetic" k1="1" k2="0" k3="-0.5" k4="0.5" result="nm"/>
<feColorMatrix in="s" type="matrix" values="0.5 0.022 -0.5 0 0.5  0.5 0.022 -0.5 0 0.5  0.5 0.022 -0.5 0 0.5  0 0 0 0 1" result="sb"/>
<feComposite in="nm" in2="sb" operator="arithmetic" k1="0" k2="1" k3="0.72" k4="-0.36" result="u"/>
<feComponentTransfer in="u">
<feFuncR type="table" tableValues="0.231 0.223 0.214 0.205 0.196 0.187 0.180 0.174 0.168 0.162 0.156 0.150 0.153 0.181 0.210 0.238 0.267 0.290 0.314 0.337 0.361 0.384 0.427 0.480 0.533 0.616 0.698 0.770 0.820 0.870 0.898 0.916 0.933 0.961 0.988 0.979 0.965 0.950 0.938 0.921 0.901 0.888 0.885 0.886 0.895 0.905 0.914 0.924 0.933 0.949 0.965 0.980 0.996 0.980 0.953 0.926 0.899 0.872 0.845 0.814 0.775 0.737 0.698 0.659 0.620"/>
<feFuncG type="table" tableValues="0.231 0.226 0.221 0.216 0.211 0.206 0.206 0.209 0.212 0.215 0.218 0.221 0.230 0.254 0.278 0.302 0.325 0.348 0.371 0.394 0.417 0.439 0.484 0.540 0.596 0.684 0.773 0.844 0.882 0.921 0.933 0.933 0.933 0.930 0.926 0.911 0.895 0.867 0.791 0.723 0.661 0.595 0.525 0.467 0.431 0.396 0.361 0.325 0.290 0.222 0.154 0.086 0.018 0.007 0.016 0.025 0.034 0.044 0.053 0.061 0.066 0.071 0.076 0.081 0.086"/>
<feFuncB type="table" tableValues="0.239 0.245 0.251 0.257 0.263 0.269 0.286 0.308 0.331 0.354 0.376 0.399 0.421 0.440 0.459 0.479 0.498 0.519 0.539 0.560 0.580 0.601 0.643 0.696 0.749 0.825 0.902 0.948 0.933 0.919 0.919 0.926 0.933 0.878 0.823 0.841 0.871 0.864 0.712 0.556 0.398 0.245 0.098 0.000 0.000 0.000 0.000 0.000 0.000 0.000 0.000 0.000 0.000 0.013 0.030 0.047 0.064 0.081 0.098 0.115 0.131 0.148 0.164 0.180 0.196"/>
<feFuncA type="linear" slope="0" intercept="1"/>
</feComponentTransfer>
</filter>

<filter id="fld10" filterUnits="userSpaceOnUse" x="345" y="146" width="713" height="713" color-interpolation-filters="sRGB">
<feTurbulence type="fractalNoise" baseFrequency="0.05 0.105" numOctaves="2" seed="37" result="n"/>
<feColorMatrix in="n" type="matrix" values="1 0 0 0 0 1 0 0 0 0 1 0 0 0 0 0 0 0 0 1" result="ng0"/>
<feComponentTransfer in="ng0" result="ng"><feFuncR type="table" tableValues="0.328 0.328 0.328 0.330 0.342 0.354 0.365 0.377 0.388 0.399 0.410 0.421 0.431 0.441 0.451 0.461 0.470 0.479 0.487 0.494 0.500 0.510 0.526 0.545 0.566 0.589 0.614 0.640 0.668 0.697 0.727 0.758 0.790 0.823 0.857 0.892 0.928 0.964 0.970 0.970 0.970"/><feFuncG type="table" tableValues="0.328 0.328 0.328 0.330 0.342 0.354 0.365 0.377 0.388 0.399 0.410 0.421 0.431 0.441 0.451 0.461 0.470 0.479 0.487 0.494 0.500 0.510 0.526 0.545 0.566 0.589 0.614 0.640 0.668 0.697 0.727 0.758 0.790 0.823 0.857 0.892 0.928 0.964 0.970 0.970 0.970"/><feFuncB type="table" tableValues="0.328 0.328 0.328 0.330 0.342 0.354 0.365 0.377 0.388 0.399 0.410 0.421 0.431 0.441 0.451 0.461 0.470 0.479 0.487 0.494 0.500 0.510 0.526 0.545 0.566 0.589 0.614 0.640 0.668 0.697 0.727 0.758 0.790 0.823 0.857 0.892 0.928 0.964 0.970 0.970 0.970"/></feComponentTransfer>
<feGaussianBlur in="SourceGraphic" stdDeviation="1.131" result="s"/>
<feColorMatrix in="s" type="matrix" values="0.45 0.54 0.6 0 0  0.45 0.54 0.6 0 0  0.45 0.54 0.6 0 0  0 0 0 0 1" result="amp"/>
<feComposite in="ng" in2="amp" operator="arithmetic" k1="1" k2="0" k3="-0.5" k4="0.5" result="nm"/>
<feColorMatrix in="s" type="matrix" values="0.5 0.022 -0.5 0 0.5  0.5 0.022 -0.5 0 0.5  0.5 0.022 -0.5 0 0.5  0 0 0 0 1" result="sb"/>
<feComposite in="nm" in2="sb" operator="arithmetic" k1="0" k2="1" k3="0.72" k4="-0.36" result="u"/>
<feComponentTransfer in="u">
<feFuncR type="table" tableValues="0.231 0.223 0.214 0.205 0.196 0.187 0.180 0.174 0.168 0.162 0.156 0.150 0.153 0.181 0.210 0.238 0.267 0.290 0.314 0.337 0.361 0.384 0.427 0.480 0.533 0.616 0.698 0.770 0.820 0.870 0.898 0.916 0.933 0.961 0.988 0.979 0.965 0.950 0.938 0.921 0.901 0.888 0.885 0.886 0.895 0.905 0.914 0.924 0.933 0.949 0.965 0.980 0.996 0.980 0.953 0.926 0.899 0.872 0.845 0.814 0.775 0.737 0.698 0.659 0.620"/>
<feFuncG type="table" tableValues="0.231 0.226 0.221 0.216 0.211 0.206 0.206 0.209 0.212 0.215 0.218 0.221 0.230 0.254 0.278 0.302 0.325 0.348 0.371 0.394 0.417 0.439 0.484 0.540 0.596 0.684 0.773 0.844 0.882 0.921 0.933 0.933 0.933 0.930 0.926 0.911 0.895 0.867 0.791 0.723 0.661 0.595 0.525 0.467 0.431 0.396 0.361 0.325 0.290 0.222 0.154 0.086 0.018 0.007 0.016 0.025 0.034 0.044 0.053 0.061 0.066 0.071 0.076 0.081 0.086"/>
<feFuncB type="table" tableValues="0.239 0.245 0.251 0.257 0.263 0.269 0.286 0.308 0.331 0.354 0.376 0.399 0.421 0.440 0.459 0.479 0.498 0.519 0.539 0.560 0.580 0.601 0.643 0.696 0.749 0.825 0.902 0.948 0.933 0.919 0.919 0.926 0.933 0.878 0.823 0.841 0.871 0.864 0.712 0.556 0.398 0.245 0.098 0.000 0.000 0.000 0.000 0.000 0.000 0.000 0.000 0.000 0.000 0.013 0.030 0.047 0.064 0.081 0.098 0.115 0.131 0.148 0.164 0.180 0.196"/>
<feFuncA type="linear" slope="0" intercept="1"/>
</feComponentTransfer>
</filter>

<filter id="fld11" filterUnits="userSpaceOnUse" x="345" y="146" width="713" height="713" color-interpolation-filters="sRGB">
<feTurbulence type="fractalNoise" baseFrequency="0.05 0.105" numOctaves="2" seed="40" result="n"/>
<feColorMatrix in="n" type="matrix" values="1 0 0 0 0 1 0 0 0 0 1 0 0 0 0 0 0 0 0 1" result="ng0"/>
<feComponentTransfer in="ng0" result="ng"><feFuncR type="table" tableValues="0.328 0.328 0.328 0.330 0.342 0.354 0.365 0.377 0.388 0.399 0.410 0.421 0.431 0.441 0.451 0.461 0.470 0.479 0.487 0.494 0.500 0.510 0.526 0.545 0.566 0.589 0.614 0.640 0.668 0.697 0.727 0.758 0.790 0.823 0.857 0.892 0.928 0.964 0.970 0.970 0.970"/><feFuncG type="table" tableValues="0.328 0.328 0.328 0.330 0.342 0.354 0.365 0.377 0.388 0.399 0.410 0.421 0.431 0.441 0.451 0.461 0.470 0.479 0.487 0.494 0.500 0.510 0.526 0.545 0.566 0.589 0.614 0.640 0.668 0.697 0.727 0.758 0.790 0.823 0.857 0.892 0.928 0.964 0.970 0.970 0.970"/><feFuncB type="table" tableValues="0.328 0.328 0.328 0.330 0.342 0.354 0.365 0.377 0.388 0.399 0.410 0.421 0.431 0.441 0.451 0.461 0.470 0.479 0.487 0.494 0.500 0.510 0.526 0.545 0.566 0.589 0.614 0.640 0.668 0.697 0.727 0.758 0.790 0.823 0.857 0.892 0.928 0.964 0.970 0.970 0.970"/></feComponentTransfer>
<feGaussianBlur in="SourceGraphic" stdDeviation="1.306" result="s"/>
<feColorMatrix in="s" type="matrix" values="0.45 0.54 0.6 0 0  0.45 0.54 0.6 0 0  0.45 0.54 0.6 0 0  0 0 0 0 1" result="amp"/>
<feComposite in="ng" in2="amp" operator="arithmetic" k1="1" k2="0" k3="-0.5" k4="0.5" result="nm"/>
<feColorMatrix in="s" type="matrix" values="0.5 0.022 -0.5 0 0.5  0.5 0.022 -0.5 0 0.5  0.5 0.022 -0.5 0 0.5  0 0 0 0 1" result="sb"/>
<feComposite in="nm" in2="sb" operator="arithmetic" k1="0" k2="1" k3="0.72" k4="-0.36" result="u"/>
<feComponentTransfer in="u">
<feFuncR type="table" tableValues="0.231 0.223 0.214 0.205 0.196 0.187 0.180 0.174 0.168 0.162 0.156 0.150 0.153 0.181 0.210 0.238 0.267 0.290 0.314 0.337 0.361 0.384 0.427 0.480 0.533 0.616 0.698 0.770 0.820 0.870 0.898 0.916 0.933 0.961 0.988 0.979 0.965 0.950 0.938 0.921 0.901 0.888 0.885 0.886 0.895 0.905 0.914 0.924 0.933 0.949 0.965 0.980 0.996 0.980 0.953 0.926 0.899 0.872 0.845 0.814 0.775 0.737 0.698 0.659 0.620"/>
<feFuncG type="table" tableValues="0.231 0.226 0.221 0.216 0.211 0.206 0.206 0.209 0.212 0.215 0.218 0.221 0.230 0.254 0.278 0.302 0.325 0.348 0.371 0.394 0.417 0.439 0.484 0.540 0.596 0.684 0.773 0.844 0.882 0.921 0.933 0.933 0.933 0.930 0.926 0.911 0.895 0.867 0.791 0.723 0.661 0.595 0.525 0.467 0.431 0.396 0.361 0.325 0.290 0.222 0.154 0.086 0.018 0.007 0.016 0.025 0.034 0.044 0.053 0.061 0.066 0.071 0.076 0.081 0.086"/>
<feFuncB type="table" tableValues="0.239 0.245 0.251 0.257 0.263 0.269 0.286 0.308 0.331 0.354 0.376 0.399 0.421 0.440 0.459 0.479 0.498 0.519 0.539 0.560 0.580 0.601 0.643 0.696 0.749 0.825 0.902 0.948 0.933 0.919 0.919 0.926 0.933 0.878 0.823 0.841 0.871 0.864 0.712 0.556 0.398 0.245 0.098 0.000 0.000 0.000 0.000 0.000 0.000 0.000 0.000 0.000 0.000 0.013 0.030 0.047 0.064 0.081 0.098 0.115 0.131 0.148 0.164 0.180 0.196"/>
<feFuncA type="linear" slope="0" intercept="1"/>
</feComponentTransfer>
</filter>

<filter id="fldm" filterUnits="userSpaceOnUse" x="345" y="146" width="713" height="713" color-interpolation-filters="sRGB">
<feTurbulence type="fractalNoise" baseFrequency="0.075" numOctaves="2" seed="7" result="n"/>
<feColorMatrix in="n" type="matrix" values="1 0 0 0 0 1 0 0 0 0 1 0 0 0 0 0 0 0 0 1" result="ng0"/>
<feComponentTransfer in="ng0" result="ng"><feFuncR type="table" tableValues="0.328 0.328 0.328 0.330 0.342 0.354 0.365 0.377 0.388 0.399 0.410 0.421 0.431 0.441 0.451 0.461 0.470 0.479 0.487 0.494 0.500 0.510 0.526 0.545 0.566 0.589 0.614 0.640 0.668 0.697 0.727 0.758 0.790 0.823 0.857 0.892 0.928 0.964 0.970 0.970 0.970"/><feFuncG type="table" tableValues="0.328 0.328 0.328 0.330 0.342 0.354 0.365 0.377 0.388 0.399 0.410 0.421 0.431 0.441 0.451 0.461 0.470 0.479 0.487 0.494 0.500 0.510 0.526 0.545 0.566 0.589 0.614 0.640 0.668 0.697 0.727 0.758 0.790 0.823 0.857 0.892 0.928 0.964 0.970 0.970 0.970"/><feFuncB type="table" tableValues="0.328 0.328 0.328 0.330 0.342 0.354 0.365 0.377 0.388 0.399 0.410 0.421 0.431 0.441 0.451 0.461 0.470 0.479 0.487 0.494 0.500 0.510 0.526 0.545 0.566 0.589 0.614 0.640 0.668 0.697 0.727 0.758 0.790 0.823 0.857 0.892 0.928 0.964 0.970 0.970 0.970"/></feComponentTransfer>
<feTurbulence type="fractalNoise" baseFrequency="0.035" numOctaves="2" seed="11" result="dn"/>
<feGaussianBlur in="SourceGraphic" stdDeviation="1.6" result="s0"/>
<feDisplacementMap in="s0" in2="dn" scale="7" xChannelSelector="R" yChannelSelector="G" result="s"/>
<feColorMatrix in="s" type="matrix" values="0.45 0.44 0.6 0 0  0.45 0.44 0.6 0 0  0.45 0.44 0.6 0 0  0 0 0 0 1" result="amp"/>
<feComposite in="ng" in2="amp" operator="arithmetic" k1="1" k2="0" k3="-0.5" k4="0.5" result="nm"/>
<feColorMatrix in="s" type="matrix" values="0.5 0.022 -0.5 0 0.5  0.5 0.022 -0.5 0 0.5  0.5 0.022 -0.5 0 0.5  0 0 0 0 1" result="sb"/>
<feComposite in="nm" in2="sb" operator="arithmetic" k1="0" k2="1" k3="0.72" k4="-0.36" result="u"/>
<feComponentTransfer in="u" result="col">
<feFuncR type="table" tableValues="0.231 0.223 0.214 0.205 0.196 0.187 0.180 0.174 0.168 0.162 0.156 0.150 0.153 0.181 0.210 0.238 0.267 0.290 0.314 0.337 0.361 0.384 0.427 0.480 0.533 0.616 0.698 0.770 0.820 0.870 0.898 0.916 0.933 0.961 0.988 0.979 0.965 0.950 0.938 0.921 0.901 0.888 0.885 0.886 0.895 0.905 0.914 0.924 0.933 0.949 0.965 0.980 0.996 0.980 0.953 0.926 0.899 0.872 0.845 0.814 0.775 0.737 0.698 0.659 0.620"/>
<feFuncG type="table" tableValues="0.231 0.226 0.221 0.216 0.211 0.206 0.206 0.209 0.212 0.215 0.218 0.221 0.230 0.254 0.278 0.302 0.325 0.348 0.371 0.394 0.417 0.439 0.484 0.540 0.596 0.684 0.773 0.844 0.882 0.921 0.933 0.933 0.933 0.930 0.926 0.911 0.895 0.867 0.791 0.723 0.661 0.595 0.525 0.467 0.431 0.396 0.361 0.325 0.290 0.222 0.154 0.086 0.018 0.007 0.016 0.025 0.034 0.044 0.053 0.061 0.066 0.071 0.076 0.081 0.086"/>
<feFuncB type="table" tableValues="0.239 0.245 0.251 0.257 0.263 0.269 0.286 0.308 0.331 0.354 0.376 0.399 0.421 0.440 0.459 0.479 0.498 0.519 0.539 0.560 0.580 0.601 0.643 0.696 0.749 0.825 0.902 0.948 0.933 0.919 0.919 0.926 0.933 0.878 0.823 0.841 0.871 0.864 0.712 0.556 0.398 0.245 0.098 0.000 0.000 0.000 0.000 0.000 0.000 0.000 0.000 0.000 0.000 0.013 0.030 0.047 0.064 0.081 0.098 0.115 0.131 0.148 0.164 0.180 0.196"/>
<feFuncA type="linear" slope="0" intercept="1"/>
</feComponentTransfer>
<feColorMatrix in="s" type="matrix" values="0 0 0 0 0 0 0 0 0 0 0 0 0 0 0 3.5 0 3.5 0 0" result="am"/>
<feComposite in="col" in2="am" operator="in"/>
</filter>

<filter id="softb" filterUnits="userSpaceOnUse" x="345" y="146" width="713" height="713"><feGaussianBlur stdDeviation="1.3"/></filter>
<filter id="actb" filterUnits="userSpaceOnUse" x="345" y="146" width="713" height="713"><feGaussianBlur stdDeviation="10"/></filter>
<filter id="iceblur" filterUnits="userSpaceOnUse" x="345" y="146" width="713" height="713"><feGaussianBlur stdDeviation="9"/></filter>
</defs>
<g opacity="0.999">
<text class="t" x="710" y="67.6" font-size="31.4">AVHRR Meridional Sea Surface Temperature Gradient</text>
<text class="t" x="702" y="108" font-size="24.9">2012-09-22</text>
</g>
<g clip-path="url(#disc)">
<circle cx="701.4" cy="502.4" r="354.5" fill="#fbefdf"/>
<defs><g id="srcb">
<rect x="339" y="140" width="725" height="725" fill="#00ff00"/>
<g filter="url(#actb)" fill="none" stroke="#ffff00" stroke-linecap="round" stroke-linejoin="round"><path d="M544.2,418.8 490.2,337.4 549.2,327.3 576.4,285.9 617.9,273.1 665.5,246.9 739.0,235.0 797.2,239.3 879.5,290.2 914.3,330.0 924.4,378.8 936.3,416.9 940.5,481.5 939.9,548.8 906.0,593.5 874.2,623.4 831.9,657.9 800.9,674.7 774.1,673.6 740.3,685.3 701.4,670.4 656.1,671.4 590.7,660.5 548.8,601.5 546.9,543.8 561.1,480.2 553.1,442.5 544.2,418.8Z" stroke-width="46" stroke-opacity="0.13"/><path d="M436.1,323.5 476.5,277.5 542.4,227.0 646.5,191.2 755.2,197.1 828.2,230.5 905.8,258.8 967.6,316.0 993.2,366.3" stroke-width="40" stroke-opacity="0.12"/></g>
<path d="M701.4,328.4 716.6,328.9 731.7,330.6 746.7,333.4 761.4,337.5 775.7,343.0 789.4,350.0 802.2,358.4 813.9,368.3 824.4,379.4 833.9,391.2 842.5,403.6 850.4,416.4 857.0,429.9 861.9,444.0 865.1,458.5 867.1,473.2 868.1,487.8 868.4,502.4 867.8,517.0 866.1,531.4 863.2,545.8 859.0,559.8 853.6,573.4 846.9,586.4 838.1,598.1 827.0,607.8 814.5,615.5 801.7,621.9 789.2,627.8 777.4,634.0 765.2,639.3 752.2,641.9 738.9,642.5 726.0,641.8 713.5,640.8 701.4,640.4 689.3,640.7 676.9,641.3 664.1,641.5 651.1,640.5 638.3,637.6 626.4,632.3 615.0,625.8 603.4,619.2 591.8,612.0 580.7,603.6 570.9,593.8 562.8,582.4 556.5,570.0 551.5,557.0 547.8,543.6 545.3,529.9 543.9,516.2 543.4,502.4 544.2,488.6 546.5,475.1 550.2,461.9 555.0,449.1 560.7,436.8 567.2,424.9 573.0,412.5 577.7,398.6 582.6,383.6 589.2,368.7 598.6,355.6 610.9,345.6 625.1,338.8 640.1,334.0 655.5,330.9 670.9,329.3 686.2,328.6Z" fill="#000" filter="url(#iceblur)"/>
</g>
<g id="strk"><g fill="none" stroke-linecap="round" stroke-linejoin="round"><g filter="url(#softb)"><path d="M470.5,299.4 476.3,294.5 482.3,291.2" stroke="#00ffff" stroke-width="11.0" stroke-opacity="0.13"/>
<path d="M523.5,300.5 528.0,294.5 534.9,289.6 541.0,287.3 549.8,287.3" stroke="#00ffff" stroke-width="10.5" stroke-opacity="0.13"/>
<path d="M550.5,329.3 554.9,324.6 561.4,321.0 566.2,316.6 570.9,313.4" stroke="#00ffff" stroke-width="11.5" stroke-opacity="0.13"/>
<path d="M535.7,348.8 539.9,343.5 542.7,337.3 548.0,330.6" stroke="#00ffff" stroke-width="11.0" stroke-opacity="0.13"/>
<path d="M513.3,362.4 515.0,356.7 518.3,350.2 519.0,344.8" stroke="#00ffff" stroke-width="11.0" stroke-opacity="0.13"/>
<path d="M473.4,314.5 477.3,313.4" stroke="#00ffff" stroke-width="11.0" stroke-opacity="0.13"/>
<path d="M478.8,323.7 483.3,321.1 486.4,319.3 491.8,318.1" stroke="#00ffff" stroke-width="11.0" stroke-opacity="0.13"/>
<path d="M482.8,336.0 486.9,331.2 489.2,325.9" stroke="#00ffff" stroke-width="11.0" stroke-opacity="0.13"/>
<path d="M497.5,329.0 500.3,322.7 500.9,317.7" stroke="#00ffff" stroke-width="10.0" stroke-opacity="0.13"/>
<path d="M480.8,347.2 484.6,345.6" stroke="#00ffff" stroke-width="11.0" stroke-opacity="0.13"/>
<path d="M552.8,390.1 554.7,383.1 559.4,379.4" stroke="#00ffff" stroke-width="10.0" stroke-opacity="0.13"/>
<path d="M562.2,386.0 563.5,382.6" stroke="#00ffff" stroke-width="10.0" stroke-opacity="0.13"/>
<path d="M576.7,391.5 578.1,386.1" stroke="#00ffff" stroke-width="10.0" stroke-opacity="0.13"/>
<path d="M446.5,267.9 452.5,263.6 461.1,259.5 471.4,256.8" stroke="#ffff00" stroke-width="5" stroke-opacity="0.38"/>
<path d="M477.0,271.8 482.4,269.9 488.5,267.6" stroke="#ffff00" stroke-width="5" stroke-opacity="0.38"/>
<path d="M536.1,265.0 543.2,265.5 552.3,267.1" stroke="#ffff00" stroke-width="5" stroke-opacity="0.38"/>
<path d="M503.8,279.0 509.6,276.3 515.2,275.3" stroke="#ffff00" stroke-width="5" stroke-opacity="0.38"/>
<path d="M540.1,216.1 546.5,212.0 552.3,209.8" stroke="#ffff00" stroke-width="5" stroke-opacity="0.38"/>
<path d="M555.9,202.0 561.7,198.8 568.8,200.2 573.3,200.0" stroke="#ffff00" stroke-width="5" stroke-opacity="0.38"/>
<path d="M598.9,204.0 606.0,200.7 611.4,197.5" stroke="#ffff00" stroke-width="5" stroke-opacity="0.38"/>
<path d="M621.5,217.1 627.7,214.1 634.5,215.5" stroke="#ffff00" stroke-width="5" stroke-opacity="0.38"/>
<path d="M603.4,177.9 613.6,175.6 620.3,172.9" stroke="#ffff00" stroke-width="5" stroke-opacity="0.38"/>
<path d="M566.2,264.6 569.8,259.4 575.4,255.4 577.8,252.9" stroke="#ffff00" stroke-width="5" stroke-opacity="0.38"/>
<path d="M591.2,259.4 598.2,258.2 604.9,259.9" stroke="#ffff00" stroke-width="5" stroke-opacity="0.38"/>
<path d="M504.0,226.9 509.2,223.3 514.0,221.5" stroke="#ffff00" stroke-width="5" stroke-opacity="0.38"/>
<path d="M482.9,252.7 488.2,249.4" stroke="#ffff00" stroke-width="5" stroke-opacity="0.38"/>
<path d="M619.2,244.9 627.8,241.9 634.5,243.3" stroke="#ffff00" stroke-width="5" stroke-opacity="0.38"/>
<path d="M574.2,309.9 579.0,308.4 586.0,306.9" stroke="#ffff00" stroke-width="5" stroke-opacity="0.38"/>
<path d="M622.0,323.0 628.5,322.2 633.8,322.4" stroke="#ffff00" stroke-width="5" stroke-opacity="0.38"/>
<path d="M605.2,324.2 613.3,323.6" stroke="#ffff00" stroke-width="5" stroke-opacity="0.38"/>
<path d="M462.1,340.9 465.2,347.4 472.8,354.3 477.7,358.8" stroke="#ffff00" stroke-width="4" stroke-opacity="0.34"/>
<path d="M449.9,339.0 454.3,347.7 457.7,355.3" stroke="#ffff00" stroke-width="4" stroke-opacity="0.34"/>
<path d="M554.2,336.9 557.8,332.2" stroke="#ffff00" stroke-width="5" stroke-opacity="0.38"/>
<path d="M539.3,324.5 541.0,322.2" stroke="#ffff00" stroke-width="5" stroke-opacity="0.38"/>
<path d="M553.7,373.9 558.3,371.3" stroke="#ffff00" stroke-width="5" stroke-opacity="0.38"/>
<path d="M639.4,250.7 643.6,252.2 650.1,251.8 655.3,251.8 660.8,252.6 665.9,250.7 668.9,248.9 674.5,249.3 679.2,250.1 686.8,250.6" stroke="#00ffff" stroke-width="11.0" stroke-opacity="0.13"/>
<path d="M753.7,222.9 762.3,225.3 767.3,226.6 769.8,230.1 775.0,231.7 784.1,233.7" stroke="#00ffff" stroke-width="11.0" stroke-opacity="0.13"/>
<path d="M754.0,234.8 759.5,241.1 764.8,244.2 771.4,245.5 781.3,243.6 788.6,243.3 793.6,238.6" stroke="#00ffff" stroke-width="11.5" stroke-opacity="0.13"/>
<path d="M799.3,232.1 803.5,236.5 813.4,240.3 820.4,241.0 826.8,241.7 835.0,244.3 842.9,247.2 847.4,250.9" stroke="#00ffff" stroke-width="11.5" stroke-opacity="0.13"/>
<path d="M803.8,259.6 808.3,258.8 811.5,259.9" stroke="#00ffff" stroke-width="12.0" stroke-opacity="0.13"/>
<path d="M796.0,267.6 801.2,268.1 803.8,270.5" stroke="#00ffff" stroke-width="11.0" stroke-opacity="0.13"/>
<path d="M812.1,268.9 817.0,270.4 822.7,274.1 826.5,277.1 828.0,282.4" stroke="#00ffff" stroke-width="11.0" stroke-opacity="0.13"/>
<path d="M853.1,268.0 857.8,274.0 860.6,277.3 864.2,281.9 872.2,283.8 881.5,286.7" stroke="#00ffff" stroke-width="11.0" stroke-opacity="0.13"/>
<path d="M873.5,289.6 879.5,293.0 884.4,294.5 889.7,295.1" stroke="#00ffff" stroke-width="12.0" stroke-opacity="0.13"/>
<path d="M776.1,254.5 778.8,258.2" stroke="#00ffff" stroke-width="11.0" stroke-opacity="0.13"/>
<path d="M842.0,320.5 846.8,326.1 848.7,329.2" stroke="#ffff00" stroke-width="5" stroke-opacity="0.42"/>
<path d="M651.1,175.3 657.1,178.3 664.3,181.6 672.5,183.9" stroke="#ffff00" stroke-width="5" stroke-opacity="0.38"/>
<path d="M639.3,200.4 647.0,202.1 653.1,201.5" stroke="#ffff00" stroke-width="5" stroke-opacity="0.38"/>
<path d="M665.9,205.1 668.9,205.3 673.8,206.6 680.3,205.1 685.1,203.2" stroke="#ffff00" stroke-width="5" stroke-opacity="0.38"/>
<path d="M701.0,208.5 711.2,210.9" stroke="#ffff00" stroke-width="5" stroke-opacity="0.38"/>
<path d="M705.6,217.2 711.7,218.0" stroke="#ffff00" stroke-width="5" stroke-opacity="0.38"/>
<path d="M715.8,200.4 723.2,199.1 728.5,196.7" stroke="#ffff00" stroke-width="5" stroke-opacity="0.38"/>
<path d="M638.6,262.3 647.0,262.2 653.0,261.0" stroke="#ffff00" stroke-width="5" stroke-opacity="0.38"/>
<path d="M728.5,244.0 734.6,244.7 739.7,246.7" stroke="#ffff00" stroke-width="5" stroke-opacity="0.38"/>
<path d="M734.6,263.4 741.5,262.6 745.5,263.5 750.3,261.5 754.2,259.7" stroke="#ffff00" stroke-width="5" stroke-opacity="0.38"/>
<path d="M688.7,273.9 694.8,272.2" stroke="#ffff00" stroke-width="5" stroke-opacity="0.38"/>
<path d="M740.7,276.7 746.0,279.6" stroke="#ffff00" stroke-width="5" stroke-opacity="0.38"/>
<path d="M703.0,286.4 707.5,288.2 711.6,289.8 720.3,293.5 728.2,298.1" stroke="#ffff00" stroke-width="4" stroke-opacity="0.26"/>
<path d="M786.7,267.8 790.7,273.2 794.1,276.2" stroke="#ffff00" stroke-width="5" stroke-opacity="0.42"/>
<path d="M759.0,285.6 763.3,287.8 766.5,291.5" stroke="#ffff00" stroke-width="5" stroke-opacity="0.38"/>
<path d="M860.7,325.9 864.3,330.5 872.3,335.3" stroke="#ffff00" stroke-width="5" stroke-opacity="0.38"/>
<path d="M814.2,358.1 819.8,361.0" stroke="#ffff00" stroke-width="5" stroke-opacity="0.38"/>
<path d="M797.4,252.3 802.2,251.1" stroke="#ffff00" stroke-width="5" stroke-opacity="0.38"/>
<path d="M815.4,254.7 821.0,257.5 827.8,258.6" stroke="#ffff00" stroke-width="5" stroke-opacity="0.38"/>
<path d="M835.6,267.1 836.6,272.0" stroke="#ffff00" stroke-width="5" stroke-opacity="0.38"/>
<path d="M809.9,240.2 818.8,239.9 823.7,243.3 832.6,246.9 840.9,248.5 844.6,252.0" stroke="#00ffff" stroke-width="11.5" stroke-opacity="0.13"/>
<path d="M853.1,275.6 859.0,279.2 864.4,282.7 872.3,285.0 877.9,289.0 882.0,293.5 890.0,296.3 897.9,299.4 904.8,299.6" stroke="#00ffff" stroke-width="11.5" stroke-opacity="0.13"/>
<path d="M809.8,258.8 813.4,264.6 816.6,268.8 821.4,274.2" stroke="#00ffff" stroke-width="11.0" stroke-opacity="0.13"/>
<path d="M890.7,310.0 894.5,317.6 898.5,321.0 907.8,322.1 915.6,323.4 920.6,326.5 924.9,333.8 928.9,340.1" stroke="#00ffff" stroke-width="13.0" stroke-opacity="0.13"/>
<path d="M907.6,332.3 912.4,334.9 916.2,341.3 922.6,349.0 928.9,353.9 934.0,357.4" stroke="#00ffff" stroke-width="11.5" stroke-opacity="0.13"/>
<path d="M911.9,356.3 916.0,361.4 921.1,367.7 923.1,374.9 926.5,382.7 930.6,390.6 932.7,395.0 933.3,399.5" stroke="#00ffff" stroke-width="12.5" stroke-opacity="0.13"/>
<path d="M826.4,317.7 830.0,321.7" stroke="#ffff00" stroke-width="5" stroke-opacity="0.42"/>
<path d="M876.3,208.4 884.8,209.2 891.5,210.4" stroke="#ffff00" stroke-width="5" stroke-opacity="0.38"/>
<path d="M895.9,240.0 904.3,240.4 911.1,242.8 915.2,245.5" stroke="#ffff00" stroke-width="5" stroke-opacity="0.38"/>
<path d="M930.1,236.9 936.5,239.7" stroke="#ffff00" stroke-width="5" stroke-opacity="0.38"/>
<path d="M979.7,293.1 984.8,300.3 987.1,307.7" stroke="#ffff00" stroke-width="5" stroke-opacity="0.38"/>
<path d="M959.0,299.8 964.5,301.3" stroke="#ffff00" stroke-width="4" stroke-opacity="0.26"/>
<path d="M975.2,341.7 983.1,346.1 989.0,349.8" stroke="#ffff00" stroke-width="5" stroke-opacity="0.38"/>
<path d="M1008.8,359.6 1011.3,364.8" stroke="#ffff00" stroke-width="5" stroke-opacity="0.38"/>
<path d="M982.0,325.8 985.0,328.8" stroke="#ffff00" stroke-width="5" stroke-opacity="0.38"/>
<path d="M854.7,311.1 859.2,316.1" stroke="#ffff00" stroke-width="5" stroke-opacity="0.38"/>
<path d="M866.2,330.4 872.3,335.3 876.7,337.8" stroke="#ffff00" stroke-width="4" stroke-opacity="0.26"/>
<path d="M817.0,357.5 821.0,359.4" stroke="#ffff00" stroke-width="5" stroke-opacity="0.38"/>
<path d="M1004.7,383.7 1007.0,390.3" stroke="#ffff00" stroke-width="5" stroke-opacity="0.38"/>
<path d="M550.8,390.4 549.9,397.9 551.7,404.7 548.9,408.8 548.8,415.7 551.2,422.5 547.6,427.0 543.0,429.6 537.7,430.8" stroke="#00ffff" stroke-width="11.0" stroke-opacity="0.13"/>
<path d="M552.4,439.8 554.4,445.1" stroke="#ffff00" stroke-width="5" stroke-opacity="0.42"/>
<path d="M545.4,593.1 546.0,600.3 548.5,609.1" stroke="#ffff00" stroke-width="5" stroke-opacity="0.42"/>
<path d="M550.5,614.8 551.4,619.1 552.7,624.3 555.0,629.1 559.0,634.9" stroke="#00ffff" stroke-width="11.0" stroke-opacity="0.13"/>
<path d="M578.9,631.6 581.4,635.0 583.2,640.3" stroke="#00ffff" stroke-width="11.0" stroke-opacity="0.13"/>
<path d="M568.0,604.5 572.1,608.2 577.3,610.5" stroke="#ffff00" stroke-width="5" stroke-opacity="0.42"/>
<path d="M568.5,613.7 573.3,620.4 577.1,625.2" stroke="#ffff00" stroke-width="5" stroke-opacity="0.42"/>
<path d="M437.1,463.6 439.3,467.9 437.7,471.2" stroke="#ffff00" stroke-width="5" stroke-opacity="0.38"/>
<path d="M422.6,483.3 429.7,485.1 432.7,488.0" stroke="#ffff00" stroke-width="5" stroke-opacity="0.38"/>
<path d="M434.1,519.6 435.2,525.6 432.8,530.4" stroke="#ffff00" stroke-width="5" stroke-opacity="0.38"/>
<path d="M451.6,524.7 449.8,530.6" stroke="#ffff00" stroke-width="5" stroke-opacity="0.38"/>
<path d="M432.2,543.9 435.4,549.3 440.9,558.3 443.2,565.5" stroke="#ffff00" stroke-width="5" stroke-opacity="0.38"/>
<path d="M383.9,554.3 384.4,562.5 384.4,566.2" stroke="#ffff00" stroke-width="5" stroke-opacity="0.38"/>
<path d="M363.6,553.9 361.7,559.6 363.4,564.8" stroke="#ffff00" stroke-width="5" stroke-opacity="0.38"/>
<path d="M433.8,575.7 434.3,583.7" stroke="#ffff00" stroke-width="5" stroke-opacity="0.38"/>
<path d="M423.8,602.6 428.3,609.5 433.8,615.5 436.3,619.7" stroke="#ffff00" stroke-width="5" stroke-opacity="0.38"/>
<path d="M461.3,556.9 464.4,561.3 465.5,566.4" stroke="#ffff00" stroke-width="5" stroke-opacity="0.38"/>
<path d="M410.7,586.6 415.0,593.2" stroke="#ffff00" stroke-width="5" stroke-opacity="0.38"/>
<path d="M381.0,599.0 384.0,604.2" stroke="#ffff00" stroke-width="5" stroke-opacity="0.38"/>
<path d="M407.0,606.0 408.1,608.3" stroke="#ffff00" stroke-width="5" stroke-opacity="0.38"/>
<path d="M405.5,630.0 408.9,634.1 412.4,637.9" stroke="#ffff00" stroke-width="5" stroke-opacity="0.38"/>
<path d="M531.7,513.9 533.1,518.8 531.5,523.9" stroke="#ffff00" stroke-width="5" stroke-opacity="0.38"/>
<path d="M533.3,496.2 536.5,500.5" stroke="#ffff00" stroke-width="5" stroke-opacity="0.38"/>
<path d="M541.1,562.7 544.1,567.3 546.3,570.8" stroke="#ffff00" stroke-width="5" stroke-opacity="0.38"/>
<path d="M566.5,549.6 569.4,553.8 570.3,562.6 571.6,570.4" stroke="#ffff00" stroke-width="5" stroke-opacity="0.38"/>
<path d="M555.7,588.4 558.5,591.2" stroke="#ffff00" stroke-width="5" stroke-opacity="0.38"/>
<path d="M572.9,583.5 574.1,586.9" stroke="#ffff00" stroke-width="5" stroke-opacity="0.38"/>
<path d="M363.5,509.3 365.2,513.7" stroke="#ffff00" stroke-width="5" stroke-opacity="0.38"/>
<path d="M409.3,521.8 410.5,525.1" stroke="#ffff00" stroke-width="5" stroke-opacity="0.38"/>
<path d="M379.4,541.9 381.0,543.9" stroke="#ffff00" stroke-width="5" stroke-opacity="0.38"/>
<path d="M501.5,457.4 502.8,459.6" stroke="#ffff00" stroke-width="5" stroke-opacity="0.38"/>
<path d="M451.7,600.2 453.6,603.4" stroke="#ffff00" stroke-width="5" stroke-opacity="0.38"/>
<path d="M454.8,614.3 456.4,617.8" stroke="#ffff00" stroke-width="5" stroke-opacity="0.38"/>
<path d="M544.5,472.9 548.0,477.0" stroke="#ffff00" stroke-width="4" stroke-opacity="0.26"/>
<path d="M545.0,451.0 548.5,452.8" stroke="#ffff00" stroke-width="5" stroke-opacity="0.38"/>
<path d="M931.7,390.5 933.7,397.7 933.8,401.0 933.6,407.0 936.7,415.1 941.4,423.7 943.2,429.7" stroke="#00ffff" stroke-width="12.5" stroke-opacity="0.13"/>
<path d="M943.1,459.4 949.1,463.4 950.1,471.5 949.8,477.8" stroke="#00ffff" stroke-width="11.5" stroke-opacity="0.13"/>
<path d="M909.3,462.8 912.5,466.9 913.7,473.4" stroke="#00ffff" stroke-width="11.0" stroke-opacity="0.13"/>
<path d="M938.9,483.3 938.7,488.9 937.0,494.1" stroke="#00ffff" stroke-width="11.5" stroke-opacity="0.13"/>
<path d="M925.9,497.9 927.5,503.8 925.7,507.0" stroke="#00ffff" stroke-width="11.5" stroke-opacity="0.13"/>
<path d="M939.0,537.6 938.5,543.5 941.2,553.5 943.0,559.2 945.5,565.4" stroke="#00ffff" stroke-width="11.0" stroke-opacity="0.13"/>
<path d="M901.9,598.5 906.5,593.4 909.0,586.6 912.8,581.0" stroke="#00ffff" stroke-width="11.5" stroke-opacity="0.13"/>
<path d="M886.4,617.2 889.1,611.2 893.7,606.2 894.1,599.9" stroke="#00ffff" stroke-width="11.0" stroke-opacity="0.13"/>
<path d="M868.5,623.3 872.7,630.7 872.7,637.0" stroke="#00ffff" stroke-width="11.0" stroke-opacity="0.13"/>
<path d="M955.0,412.2 959.4,417.2 963.8,420.0" stroke="#ffff00" stroke-width="5" stroke-opacity="0.42"/>
<path d="M991.1,584.0 994.1,584.6" stroke="#ffff00" stroke-width="5" stroke-opacity="0.42"/>
<path d="M909.9,559.5 912.6,552.4 910.9,549.5" stroke="#ffff00" stroke-width="4.5" stroke-opacity="0.42"/>
<path d="M895.7,550.3 898.9,546.9" stroke="#ffff00" stroke-width="5" stroke-opacity="0.42"/>
<path d="M899.5,533.1 902.7,536.8" stroke="#ffff00" stroke-width="5" stroke-opacity="0.42"/>
<path d="M905.7,620.4 911.1,613.9 914.3,609.7 921.5,607.3" stroke="#ffff00" stroke-width="5" stroke-opacity="0.42"/>
<path d="M996.6,616.4 1002.3,613.5 1006.2,612.3" stroke="#ffff00" stroke-width="5" stroke-opacity="0.42"/>
<path d="M848.2,414.2 854.2,422.3 857.6,430.6 862.8,438.2 869.2,444.0 873.2,449.6" stroke="#ffff00" stroke-width="3" stroke-opacity="0.34"/>
<path d="M883.6,452.1 884.6,456.9 885.1,459.7" stroke="#ffff00" stroke-width="5" stroke-opacity="0.38"/>
<path d="M882.8,475.7 883.9,480.4" stroke="#ffff00" stroke-width="4" stroke-opacity="0.26"/>
<path d="M885.6,512.5 887.5,518.8 885.0,527.4" stroke="#ffff00" stroke-width="5" stroke-opacity="0.42"/>
<path d="M895.1,507.3 896.6,510.5" stroke="#ffff00" stroke-width="5" stroke-opacity="0.38"/>
<path d="M901.6,494.3 902.8,498.9" stroke="#ffff00" stroke-width="5" stroke-opacity="0.38"/>
<path d="M864.6,558.5 864.8,562.3" stroke="#ffff00" stroke-width="5" stroke-opacity="0.38"/>
<path d="M850.7,616.8 854.1,618.4" stroke="#ffff00" stroke-width="5" stroke-opacity="0.38"/>
<path d="M869.3,610.7 872.4,614.3" stroke="#ffff00" stroke-width="5" stroke-opacity="0.38"/>
<path d="M816.4,608.0 822.7,601.8 827.6,597.2" stroke="#ffff00" stroke-width="4" stroke-opacity="0.30"/>
<path d="M1019.8,413.7 1022.1,422.5" stroke="#ffff00" stroke-width="5" stroke-opacity="0.38"/>
<path d="M1030.9,397.0 1032.9,404.9" stroke="#ffff00" stroke-width="5" stroke-opacity="0.38"/>
<path d="M1037.4,509.4 1040.6,514.5 1038.5,520.5" stroke="#ffff00" stroke-width="5" stroke-opacity="0.38"/>
<path d="M1031.8,533.3 1032.8,539.8" stroke="#ffff00" stroke-width="5" stroke-opacity="0.38"/>
<path d="M1031.2,565.1 1033.0,573.8 1031.9,579.8 1031.5,586.9" stroke="#ffff00" stroke-width="5" stroke-opacity="0.38"/>
<path d="M1015.4,561.0 1016.7,565.5" stroke="#ffff00" stroke-width="5" stroke-opacity="0.38"/>
<path d="M993.6,517.0 996.6,522.7" stroke="#ffff00" stroke-width="5" stroke-opacity="0.38"/>
<path d="M1051.5,489.4 1051.5,494.9" stroke="#ffff00" stroke-width="5" stroke-opacity="0.38"/>
<path d="M1012.1,479.5 1013.2,484.4" stroke="#ffff00" stroke-width="5" stroke-opacity="0.38"/>
<path d="M1035.6,468.6 1037.0,472.0" stroke="#ffff00" stroke-width="5" stroke-opacity="0.38"/>
<path d="M949.0,622.9 954.6,629.2 958.6,633.9" stroke="#ffff00" stroke-width="5" stroke-opacity="0.38"/>
<path d="M962.9,591.0 961.2,595.3" stroke="#ffff00" stroke-width="5" stroke-opacity="0.38"/>
<path d="M965.1,475.4 966.7,479.5" stroke="#ffff00" stroke-width="5" stroke-opacity="0.38"/>
<path d="M953.5,512.7 954.1,514.2" stroke="#ffff00" stroke-width="5" stroke-opacity="0.38"/>
<path d="M919.7,526.9 920.8,528.9" stroke="#ffff00" stroke-width="5" stroke-opacity="0.38"/>
<path d="M928.6,535.5 930.2,538.6" stroke="#ffff00" stroke-width="5" stroke-opacity="0.38"/>
<path d="M580.7,632.3 583.4,639.3 587.8,643.7 591.5,649.5" stroke="#00ffff" stroke-width="12.0" stroke-opacity="0.13"/>
<path d="M634.0,680.5 637.7,679.2 643.1,677.4" stroke="#ffff00" stroke-width="5" stroke-opacity="0.42"/>
<path d="M639.7,688.0 643.0,692.5" stroke="#ffff00" stroke-width="5" stroke-opacity="0.42"/>
<path d="M404.1,630.9 408.2,635.0 413.4,641.3" stroke="#ffff00" stroke-width="5" stroke-opacity="0.38"/>
<path d="M427.5,641.3 431.2,644.2 436.9,647.5" stroke="#ffff00" stroke-width="5" stroke-opacity="0.38"/>
<path d="M440.2,670.6 443.1,677.1 445.4,681.1" stroke="#ffff00" stroke-width="5" stroke-opacity="0.38"/>
<path d="M507.7,679.9 512.3,684.3 514.7,689.0 517.3,694.7 520.3,700.0 520.5,707.0" stroke="#ffff00" stroke-width="4" stroke-opacity="0.38"/>
<path d="M449.1,703.0 453.1,706.2 456.2,709.8" stroke="#ffff00" stroke-width="5" stroke-opacity="0.38"/>
<path d="M450.3,714.0 455.4,719.6" stroke="#ffff00" stroke-width="5" stroke-opacity="0.38"/>
<path d="M440.1,731.1 446.7,735.8 451.6,741.1 458.0,742.4" stroke="#ffff00" stroke-width="6" stroke-opacity="0.42"/>
<path d="M511.1,729.3 517.2,731.4 518.8,738.9 520.2,744.5 525.0,750.7 527.9,753.5" stroke="#ffff00" stroke-width="4.5" stroke-opacity="0.38"/>
<path d="M535.3,761.3 539.4,767.6 542.9,769.5" stroke="#ffff00" stroke-width="5.5" stroke-opacity="0.42"/>
<path d="M552.7,768.4 558.1,771.2 565.4,776.6" stroke="#ffff00" stroke-width="5.5" stroke-opacity="0.42"/>
<path d="M517.3,800.2 523.4,802.7 527.1,806.1" stroke="#ffff00" stroke-width="6" stroke-opacity="0.42"/>
<path d="M510.4,783.7 514.9,787.4" stroke="#ffff00" stroke-width="5" stroke-opacity="0.38"/>
<path d="M573.0,824.5 576.7,826.7" stroke="#ffff00" stroke-width="5" stroke-opacity="0.38"/>
<path d="M621.4,769.4 629.0,770.6 635.5,773.7" stroke="#ffff00" stroke-width="5" stroke-opacity="0.38"/>
<path d="M502.0,711.2 503.8,713.5" stroke="#ffff00" stroke-width="5" stroke-opacity="0.38"/>
<path d="M473.9,728.9 475.8,732.2" stroke="#ffff00" stroke-width="5" stroke-opacity="0.38"/>
<path d="M483.3,740.4 485.9,746.5 486.8,752.8" stroke="#ffff00" stroke-width="4" stroke-opacity="0.26"/>
<path d="M493.0,653.9 496.4,658.3" stroke="#ffff00" stroke-width="5" stroke-opacity="0.38"/>
<path d="M598.6,787.1 603.0,789.7" stroke="#ffff00" stroke-width="5" stroke-opacity="0.38"/>
<path d="M563.5,735.3 568.2,737.6" stroke="#ffff00" stroke-width="5" stroke-opacity="0.38"/>
<path d="M540.4,737.2 542.1,740.5" stroke="#ffff00" stroke-width="5" stroke-opacity="0.38"/>
<path d="M430.6,716.6 433.2,718.6" stroke="#ffff00" stroke-width="5" stroke-opacity="0.38"/>
<path d="M457.6,655.8 459.7,660.8" stroke="#ffff00" stroke-width="5" stroke-opacity="0.38"/>
<path d="M770.1,667.4 772.8,670.8 775.8,674.1" stroke="#00ffff" stroke-width="12.0" stroke-opacity="0.13"/>
<path d="M787.5,662.6 790.7,666.2" stroke="#00ffff" stroke-width="11.0" stroke-opacity="0.13"/>
<path d="M792.7,679.0 798.7,679.1 807.5,678.3 816.6,675.7 819.2,671.4 821.5,667.0" stroke="#00ffff" stroke-width="11.5" stroke-opacity="0.13"/>
<path d="M829.2,811.9 835.0,808.1 840.8,804.8" stroke="#00ffff" stroke-width="11.5" stroke-opacity="0.13"/>
<path d="M866.9,621.5 870.5,630.0 869.0,635.1" stroke="#00ffff" stroke-width="11.5" stroke-opacity="0.13"/>
<path d="M775.5,698.5 775.9,702.4" stroke="#ffff00" stroke-width="5" stroke-opacity="0.42"/>
<path d="M643.7,691.5 653.4,693.2 660.7,696.8" stroke="#ffff00" stroke-width="5" stroke-opacity="0.38"/>
<path d="M664.6,704.3 672.3,705.6 679.9,702.2" stroke="#ffff00" stroke-width="5" stroke-opacity="0.38"/>
<path d="M674.5,730.5 682.0,729.7 689.8,729.6" stroke="#ffff00" stroke-width="5" stroke-opacity="0.38"/>
<path d="M683.4,718.5 693.5,721.2" stroke="#ffff00" stroke-width="5" stroke-opacity="0.38"/>
<path d="M770.2,734.8 775.0,737.0" stroke="#ffff00" stroke-width="5" stroke-opacity="0.38"/>
<path d="M785.8,735.4 788.8,735.3" stroke="#ffff00" stroke-width="5" stroke-opacity="0.38"/>
<path d="M805.4,777.2 810.7,776.9 815.9,777.0" stroke="#ffff00" stroke-width="5" stroke-opacity="0.38"/>
<path d="M821.8,783.6 825.5,783.0" stroke="#ffff00" stroke-width="5" stroke-opacity="0.38"/>
<path d="M739.0,822.5 744.5,825.9 749.1,826.9" stroke="#ffff00" stroke-width="5" stroke-opacity="0.38"/>
<path d="M759.6,830.9 767.1,829.8 774.6,827.7" stroke="#ffff00" stroke-width="5" stroke-opacity="0.38"/>
<path d="M644.4,827.8 652.0,830.3 661.3,829.7" stroke="#ffff00" stroke-width="5" stroke-opacity="0.38"/>
<path d="M676.0,845.7 682.8,848.6 689.9,848.4" stroke="#ffff00" stroke-width="5" stroke-opacity="0.38"/>
<path d="M832.2,714.8 835.8,716.2" stroke="#ffff00" stroke-width="5" stroke-opacity="0.38"/>
<path d="M830.9,793.5 837.6,791.1 844.3,794.8" stroke="#ffff00" stroke-width="5" stroke-opacity="0.38"/>
<path d="M672.6,745.0 680.4,747.1" stroke="#ffff00" stroke-width="5" stroke-opacity="0.38"/>
<path d="M751.0,723.6 753.9,720.5" stroke="#ffff00" stroke-width="5" stroke-opacity="0.38"/>
<path d="M654.8,674.1 660.0,676.6" stroke="#ffff00" stroke-width="5" stroke-opacity="0.38"/>
<path d="M689.8,694.6 692.3,693.6" stroke="#ffff00" stroke-width="5" stroke-opacity="0.38"/>
<path d="M804.6,703.2 807.5,706.7" stroke="#ffff00" stroke-width="5" stroke-opacity="0.38"/>
<path d="M843.5,703.3 852.2,700.8 861.0,700.3" stroke="#ffff00" stroke-width="4" stroke-opacity="0.26"/>
<path d="M784.4,838.0 791.2,836.7" stroke="#ffff00" stroke-width="5" stroke-opacity="0.38"/>
<path d="M701.6,784.6 705.7,783.4" stroke="#ffff00" stroke-width="5" stroke-opacity="0.38"/>
<path d="M852.0,641.1 856.2,638.3" stroke="#ffff00" stroke-width="5" stroke-opacity="0.38"/>
<path d="M826.1,649.7 832.7,648.0" stroke="#ffff00" stroke-width="5" stroke-opacity="0.38"/>
<path d="M870.4,626.7 872.4,631.6" stroke="#00ffff" stroke-width="12.0" stroke-opacity="0.13"/>
<path d="M893.4,628.6 892.9,636.5" stroke="#00ffff" stroke-width="11.0" stroke-opacity="0.13"/>
<path d="M952.1,627.8 958.1,630.5 963.4,634.6" stroke="#ffff00" stroke-width="5" stroke-opacity="0.38"/>
<path d="M977.6,630.4 979.7,636.1" stroke="#ffff00" stroke-width="5" stroke-opacity="0.38"/>
<path d="M934.1,671.6 935.4,674.6" stroke="#ffff00" stroke-width="5" stroke-opacity="0.38"/>
<path d="M947.5,668.4 949.5,676.1" stroke="#ffff00" stroke-width="5" stroke-opacity="0.38"/>
<path d="M926.8,698.1 929.4,698.5" stroke="#ffff00" stroke-width="5" stroke-opacity="0.38"/>
<path d="M967.3,679.4 968.8,682.2" stroke="#ffff00" stroke-width="5" stroke-opacity="0.38"/>
<path d="M844.6,655.2 852.9,658.5 859.2,659.6 861.8,664.2" stroke="#ffff00" stroke-width="5" stroke-opacity="0.42"/>
<path d="M859.4,637.6 867.5,639.1 872.2,639.8" stroke="#ffff00" stroke-width="5" stroke-opacity="0.38"/>
<path d="M839.3,701.1 844.7,702.9 852.1,702.1" stroke="#ffff00" stroke-width="5" stroke-opacity="0.38"/>
<path d="M996.5,624.7 998.0,629.5" stroke="#ffff00" stroke-width="5" stroke-opacity="0.38"/>
<path d="M844.6,769.0 848.4,769.5" stroke="#ffff00" stroke-width="5" stroke-opacity="0.38"/>
<path d="M838.6,808.5 846.8,811.3 852.8,812.3" stroke="#ffff00" stroke-width="5" stroke-opacity="0.38"/>
<path d="M788.9,196.8 794.1,197.8 798.8,198.9 805.2,203.8 809.9,209.7 814.8,209.4 819.2,209.4 824.1,211.0 831.2,211.4 835.9,211.6 839.7,213.5" stroke="#00ffff" stroke-width="14" stroke-opacity="0.17"/>
<path d="M780.2,209.1 784.1,210.4 789.4,214.0 795.3,214.5 800.3,215.7" stroke="#00ffff" stroke-width="12" stroke-opacity="0.15"/>
<path d="M437.7,276.2 442.2,284.4 445.6,292.1 449.9,296.6" stroke="#00ffff" stroke-width="12" stroke-opacity="0.19"/>
<path d="M463.0,325.4 465.5,331.2 467.0,335.4 468.3,339.5 472.5,343.4 477.5,347.3 481.5,351.6 484.9,355.8 489.1,359.2" stroke="#00ffff" stroke-width="12" stroke-opacity="0.15"/>
<path d="M493.6,298.6 499.6,304.3 505.4,309.4" stroke="#00ffff" stroke-width="10" stroke-opacity="0.13"/>
<path d="M764.9,670.3 769.8,672.1 774.3,672.6 779.5,675.1 786.3,674.9 790.9,674.0 794.5,674.4 800.4,673.1 805.4,670.8 813.3,670.0" stroke="#00ffff" stroke-width="14" stroke-opacity="0.13"/></g>
<path d="M470.5,299.4 476.3,294.5 482.3,291.2" stroke="#ffff00" stroke-width="6.4" stroke-opacity="1.0"/>
<path d="M523.5,300.5 528.0,294.5 534.9,289.6 541.0,287.3 549.8,287.3" stroke="#ffff00" stroke-width="5.8" stroke-opacity="0.85"/>
<path d="M501.1,296.5 502.5,290.3 505.7,284.7" stroke="#ffff00" stroke-width="3.8" stroke-opacity="0.7"/>
<path d="M501.2,309.0 502.9,302.2 501.3,297.8" stroke="#ffff00" stroke-width="3.8" stroke-opacity="0.75"/>
<path d="M564.4,291.0 566.6,284.3 569.3,278.9 574.7,277.8 581.0,278.4 585.5,277.3 591.1,275.6 594.1,274.8 600.7,274.5 607.0,273.0 615.0,273.5 620.3,274.2" stroke="#ffff00" stroke-width="4.3" stroke-opacity="0.65"/>
<path d="M550.5,329.3 554.9,324.6 561.4,321.0 566.2,316.6 570.9,313.4" stroke="#ffff00" stroke-width="7.0" stroke-opacity="1.0"/>
<path d="M535.7,348.8 539.9,343.5 542.7,337.3 548.0,330.6" stroke="#ffff00" stroke-width="6.4" stroke-opacity="0.95"/>
<path d="M513.3,362.4 515.0,356.7 518.3,350.2 519.0,344.8" stroke="#ffff00" stroke-width="6.4" stroke-opacity="1.0"/>
<path d="M499.2,367.4 505.9,365.4 510.2,363.2" stroke="#ffff00" stroke-width="4.8" stroke-opacity="0.7"/>
<path d="M523.6,360.5 528.9,357.8 535.1,351.9" stroke="#ffff00" stroke-width="5.8" stroke-opacity="0.8"/>
<path d="M473.4,314.5 477.3,313.4" stroke="#ffff00" stroke-width="6.4" stroke-opacity="0.9"/>
<path d="M478.8,323.7 483.3,321.1 486.4,319.3 491.8,318.1" stroke="#ffff00" stroke-width="6.4" stroke-opacity="0.9"/>
<path d="M482.8,336.0 486.9,331.2 489.2,325.9" stroke="#ffff00" stroke-width="6.4" stroke-opacity="0.9"/>
<path d="M497.5,329.0 500.3,322.7 500.9,317.7" stroke="#ffff00" stroke-width="5.1" stroke-opacity="0.85"/>
<path d="M480.8,347.2 484.6,345.6" stroke="#ffff00" stroke-width="6.4" stroke-opacity="0.85"/>
<path d="M449.2,315.4 452.4,313.6 459.5,315.0 467.8,319.5 471.9,321.6" stroke="#ffff00" stroke-width="4.5" stroke-opacity="0.8"/>
<path d="M440.3,310.5 444.1,315.0 447.2,318.8" stroke="#ffff00" stroke-width="4.8" stroke-opacity="0.7"/>
<path d="M635.5,252.2 641.1,251.2 649.7,249.4" stroke="#ffff00" stroke-width="4.3" stroke-opacity="0.75"/>
<path d="M566.6,307.7 569.0,305.5" stroke="#ffff00" stroke-width="6.4" stroke-opacity="0.8"/>
<path d="M552.8,390.1 554.7,383.1 559.4,379.4" stroke="#ffff00" stroke-width="5.1" stroke-opacity="0.85"/>
<path d="M562.2,386.0 563.5,382.6" stroke="#ffff00" stroke-width="5.1" stroke-opacity="0.85"/>
<path d="M576.7,391.5 578.1,386.1" stroke="#ffff00" stroke-width="5.1" stroke-opacity="0.9"/>
<path d="M549.1,400.4 552.2,393.9" stroke="#ffff00" stroke-width="3.8" stroke-opacity="0.6"/>
<path d="M639.4,250.7 643.6,252.2 650.1,251.8 655.3,251.8 660.8,252.6 665.9,250.7 668.9,248.9 674.5,249.3 679.2,250.1 686.8,250.6" stroke="#ffff00" stroke-width="6.4" stroke-opacity="0.85"/>
<path d="M690.3,245.9 695.1,250.0 701.1,250.9 707.5,251.0 715.9,251.7" stroke="#ffff00" stroke-width="4.8" stroke-opacity="0.6"/>
<path d="M753.7,222.9 762.3,225.3 767.3,226.6 769.8,230.1 775.0,231.7 784.1,233.7" stroke="#ffff00" stroke-width="6.4" stroke-opacity="1.0"/>
<path d="M754.0,234.8 759.5,241.1 764.8,244.2 771.4,245.5 781.3,243.6 788.6,243.3 793.6,238.6" stroke="#ffff00" stroke-width="7.0" stroke-opacity="0.95"/>
<path d="M799.3,232.1 803.5,236.5 813.4,240.3 820.4,241.0 826.8,241.7 835.0,244.3 842.9,247.2 847.4,250.9" stroke="#ffff00" stroke-width="7.0" stroke-opacity="1.0"/>
<path d="M803.8,259.6 808.3,258.8 811.5,259.9" stroke="#ffff00" stroke-width="7.7" stroke-opacity="1.0"/>
<path d="M796.0,267.6 801.2,268.1 803.8,270.5" stroke="#ffff00" stroke-width="6.4" stroke-opacity="0.85"/>
<path d="M812.1,268.9 817.0,270.4 822.7,274.1 826.5,277.1 828.0,282.4" stroke="#ffff00" stroke-width="6.4" stroke-opacity="1.0"/>
<path d="M803.6,285.6 811.8,286.5 818.7,288.3" stroke="#ffff00" stroke-width="4.8" stroke-opacity="0.75"/>
<path d="M841.4,254.9 844.9,259.8 849.5,265.0" stroke="#ffff00" stroke-width="5.1" stroke-opacity="0.8"/>
<path d="M853.1,268.0 857.8,274.0 860.6,277.3 864.2,281.9 872.2,283.8 881.5,286.7" stroke="#ffff00" stroke-width="6.4" stroke-opacity="0.9"/>
<path d="M873.5,289.6 879.5,293.0 884.4,294.5 889.7,295.1" stroke="#ffff00" stroke-width="7.7" stroke-opacity="1.0"/>
<path d="M858.3,259.5 865.4,261.6 871.4,264.7 880.6,269.4" stroke="#ffff00" stroke-width="3.8" stroke-opacity="0.7"/>
<path d="M824.1,215.7 829.9,221.0 833.2,224.5 836.0,227.5" stroke="#ffff00" stroke-width="4.8" stroke-opacity="0.7"/>
<path d="M732.1,207.1 739.5,206.3 748.9,205.1 755.4,203.2" stroke="#ffff00" stroke-width="4.8" stroke-opacity="0.6"/>
<path d="M776.1,254.5 778.8,258.2" stroke="#ffff00" stroke-width="6.4" stroke-opacity="0.85"/>
<path d="M791.1,290.8 796.3,296.5 805.2,297.8 813.7,300.6 816.7,302.9" stroke="#ffff00" stroke-width="4.8" stroke-opacity="0.55"/>
<path d="M819.2,308.7 826.0,312.5 831.9,314.6 837.2,312.6" stroke="#ffff00" stroke-width="4.8" stroke-opacity="0.65"/>
<path d="M838.9,274.4 843.6,277.3" stroke="#ffff00" stroke-width="3.8" stroke-opacity="0.7"/>
<path d="M848.2,284.5 852.9,288.9" stroke="#ffff00" stroke-width="3.8" stroke-opacity="0.7"/>
<path d="M880.2,219.8 886.2,225.0 889.8,230.0" stroke="#ffff00" stroke-width="4.8" stroke-opacity="0.6"/>
<path d="M746.0,228.7 752.4,233.1" stroke="#ffff00" stroke-width="4.8" stroke-opacity="0.65"/>
<path d="M809.9,240.2 818.8,239.9 823.7,243.3 832.6,246.9 840.9,248.5 844.6,252.0" stroke="#ffff00" stroke-width="7.0" stroke-opacity="1.0"/>
<path d="M853.1,275.6 859.0,279.2 864.4,282.7 872.3,285.0 877.9,289.0 882.0,293.5 890.0,296.3 897.9,299.4 904.8,299.6" stroke="#ffff00" stroke-width="7.0" stroke-opacity="0.95"/>
<path d="M809.8,258.8 813.4,264.6 816.6,268.8 821.4,274.2" stroke="#ffff00" stroke-width="6.4" stroke-opacity="1.0"/>
<path d="M890.7,310.0 894.5,317.6 898.5,321.0 907.8,322.1 915.6,323.4 920.6,326.5 924.9,333.8 928.9,340.1" stroke="#ffff00" stroke-width="9.0" stroke-opacity="1.0"/>
<path d="M907.6,332.3 912.4,334.9 916.2,341.3 922.6,349.0 928.9,353.9 934.0,357.4" stroke="#ffff00" stroke-width="7.0" stroke-opacity="1.0"/>
<path d="M911.9,356.3 916.0,361.4 921.1,367.7 923.1,374.9 926.5,382.7 930.6,390.6 932.7,395.0 933.3,399.5" stroke="#ffff00" stroke-width="8.3" stroke-opacity="1.0"/>
<path d="M906.2,383.0 912.5,385.9 917.4,387.3" stroke="#ffff00" stroke-width="4.8" stroke-opacity="0.7"/>
<path d="M825.7,216.4 831.6,222.6 834.9,225.6 840.2,229.2" stroke="#ffff00" stroke-width="4.8" stroke-opacity="0.65"/>
<path d="M883.4,223.2 888.1,226.3 893.1,228.2 899.8,229.5" stroke="#ffff00" stroke-width="4.8" stroke-opacity="0.6"/>
<path d="M860.2,257.0 866.4,260.3 872.2,262.6 879.1,264.5" stroke="#ffff00" stroke-width="4.8" stroke-opacity="0.6"/>
<path d="M839.9,261.2 845.7,264.6 851.7,268.3" stroke="#ffff00" stroke-width="3.8" stroke-opacity="0.75"/>
<path d="M851.6,281.5 854.2,289.0 858.3,292.0 863.6,295.6" stroke="#ffff00" stroke-width="5.8" stroke-opacity="0.8"/>
<path d="M833.5,280.4 837.4,285.4 843.8,289.6" stroke="#ffff00" stroke-width="3.8" stroke-opacity="0.65"/>
<path d="M819.2,308.7 827.5,311.1 834.9,314.2" stroke="#ffff00" stroke-width="4.8" stroke-opacity="0.65"/>
<path d="M882.2,270.1 887.9,271.6 894.3,271.7" stroke="#ffff00" stroke-width="3.8" stroke-opacity="0.6"/>
<path d="M841.3,299.7 844.6,302.4" stroke="#ffff00" stroke-width="4.8" stroke-opacity="0.65"/>
<path d="M945.7,371.2 949.8,372.6" stroke="#ffff00" stroke-width="5.7" stroke-opacity="0.6"/>
<path d="M935.7,260.4 941.4,264.1 947.5,267.6 952.5,268.4" stroke="#ffff00" stroke-width="5.7" stroke-opacity="0.6"/>
<path d="M834.5,235.3 839.0,237.7" stroke="#ffff00" stroke-width="3.8" stroke-opacity="0.6"/>
<path d="M550.8,390.4 549.9,397.9 551.7,404.7 548.9,408.8 548.8,415.7 551.2,422.5 547.6,427.0 543.0,429.6 537.7,430.8" stroke="#ffff00" stroke-width="6.4" stroke-opacity="0.9"/>
<path d="M556.5,457.5 560.3,462.1 561.1,468.4 559.3,474.2 558.7,480.2" stroke="#ffff00" stroke-width="4.3" stroke-opacity="0.75"/>
<path d="M550.5,614.8 551.4,619.1 552.7,624.3 555.0,629.1 559.0,634.9" stroke="#ffff00" stroke-width="6.4" stroke-opacity="0.85"/>
<path d="M578.9,631.6 581.4,635.0 583.2,640.3" stroke="#ffff00" stroke-width="6.4" stroke-opacity="0.9"/>
<path d="M563.6,486.0 566.9,493.3 565.6,496.9" stroke="#ffff00" stroke-width="3.8" stroke-opacity="0.55"/>
<path d="M520.5,511.9 522.1,513.7" stroke="#ffff00" stroke-width="5.7" stroke-opacity="0.6"/>
<path d="M931.7,390.5 933.7,397.7 933.8,401.0 933.6,407.0 936.7,415.1 941.4,423.7 943.2,429.7" stroke="#ffff00" stroke-width="8.3" stroke-opacity="1.0"/>
<path d="M927.2,435.1 934.2,439.5 939.3,443.9 944.3,450.8" stroke="#ffff00" stroke-width="5.7" stroke-opacity="0.75"/>
<path d="M943.1,459.4 949.1,463.4 950.1,471.5 949.8,477.8" stroke="#ffff00" stroke-width="7.0" stroke-opacity="0.9"/>
<path d="M909.3,462.8 912.5,466.9 913.7,473.4" stroke="#ffff00" stroke-width="6.4" stroke-opacity="0.85"/>
<path d="M938.9,483.3 938.7,488.9 937.0,494.1" stroke="#ffff00" stroke-width="7.0" stroke-opacity="0.85"/>
<path d="M925.9,497.9 927.5,503.8 925.7,507.0" stroke="#ffff00" stroke-width="7.0" stroke-opacity="0.9"/>
<path d="M907.3,505.0 911.0,511.2 915.4,516.5" stroke="#ffff00" stroke-width="4.8" stroke-opacity="0.75"/>
<path d="M945.4,519.6 946.6,527.7 947.6,535.6 950.6,541.8" stroke="#ffff00" stroke-width="4.8" stroke-opacity="0.75"/>
<path d="M939.0,537.6 938.5,543.5 941.2,553.5 943.0,559.2 945.5,565.4" stroke="#ffff00" stroke-width="6.4" stroke-opacity="0.85"/>
<path d="M930.4,561.3 931.1,567.6 931.9,577.3 930.7,583.7" stroke="#ffff00" stroke-width="7.0" stroke-opacity="0.8"/>
<path d="M919.2,586.5 923.8,583.0 926.6,579.1" stroke="#ffff00" stroke-width="4.8" stroke-opacity="0.55"/>
<path d="M901.9,598.5 906.5,593.4 909.0,586.6 912.8,581.0" stroke="#ffff00" stroke-width="7.0" stroke-opacity="0.85"/>
<path d="M886.4,617.2 889.1,611.2 893.7,606.2 894.1,599.9" stroke="#ffff00" stroke-width="6.4" stroke-opacity="0.9"/>
<path d="M868.5,623.3 872.7,630.7 872.7,637.0" stroke="#ffff00" stroke-width="6.4" stroke-opacity="0.85"/>
<path d="M891.6,626.2 894.6,633.6 897.1,639.9" stroke="#ffff00" stroke-width="6.4" stroke-opacity="0.8"/>
<path d="M960.1,452.7 964.9,450.4 967.7,454.2" stroke="#ffff00" stroke-width="4.8" stroke-opacity="0.6"/>
<path d="M959.3,458.3 960.4,462.5" stroke="#ffff00" stroke-width="4.8" stroke-opacity="0.55"/>
<path d="M945.4,395.5 950.8,399.0 955.4,400.4" stroke="#ffff00" stroke-width="4.8" stroke-opacity="0.7"/>
<path d="M936.6,511.1 939.8,513.5" stroke="#ffff00" stroke-width="4.8" stroke-opacity="0.65"/>
<path d="M958.8,521.2 963.1,526.2 962.3,533.0" stroke="#ffff00" stroke-width="4.8" stroke-opacity="0.6"/>
<path d="M977.8,586.4 981.2,589.6 979.7,593.4" stroke="#ffff00" stroke-width="5.7" stroke-opacity="0.65"/>
<path d="M989.5,561.6 992.6,567.8 993.9,574.8" stroke="#ffff00" stroke-width="5.2" stroke-opacity="0.55"/>
<path d="M998.7,596.2 1001.8,602.1 1001.8,607.3" stroke="#ffff00" stroke-width="4.8" stroke-opacity="0.55"/>
<path d="M1008.4,590.6 1009.9,595.0" stroke="#ffff00" stroke-width="4.8" stroke-opacity="0.6"/>
<path d="M551.6,623.2 554.1,627.5 560.0,632.7 568.8,635.6 573.6,637.2" stroke="#ffff00" stroke-width="7.0" stroke-opacity="0.82"/>
<path d="M580.7,632.3 583.4,639.3 587.8,643.7 591.5,649.5" stroke="#ffff00" stroke-width="7.7" stroke-opacity="0.85"/>
<path d="M590.0,657.5 593.6,664.7 598.0,670.1 599.9,672.2" stroke="#ffff00" stroke-width="11.5" stroke-opacity="0.8"/>
<path d="M549.2,643.6 555.3,646.0 563.9,647.2 566.3,650.6 566.1,656.2 564.7,659.2" stroke="#ffff00" stroke-width="4.8" stroke-opacity="0.65"/>
<path d="M573.5,651.7 577.9,652.5 581.2,656.3" stroke="#ffff00" stroke-width="4.8" stroke-opacity="0.6"/>
<path d="M577.8,668.9 580.0,675.8 579.9,680.0" stroke="#ffff00" stroke-width="4.3" stroke-opacity="0.6"/>
<path d="M600.4,677.5 607.6,679.8 612.0,678.6" stroke="#ffff00" stroke-width="4.8" stroke-opacity="0.7"/>
<path d="M606.5,657.7 611.5,660.9" stroke="#ffff00" stroke-width="4.8" stroke-opacity="0.6"/>
<path d="M611.7,692.0 616.6,696.6 621.4,700.5" stroke="#ffff00" stroke-width="4.8" stroke-opacity="0.7"/>
<path d="M640.4,712.2 647.6,712.8 649.9,713.9" stroke="#ffff00" stroke-width="5.1" stroke-opacity="0.8"/>
<path d="M618.9,711.4 622.8,712.5 627.3,716.5 631.2,720.9" stroke="#ffff00" stroke-width="4.3" stroke-opacity="0.55"/>
<path d="M614.6,675.2 616.9,675.5" stroke="#ffff00" stroke-width="4.8" stroke-opacity="0.65"/>
<path d="M770.1,667.4 772.8,670.8 775.8,674.1" stroke="#ffff00" stroke-width="7.7" stroke-opacity="0.9"/>
<path d="M787.5,662.6 790.7,666.2" stroke="#ffff00" stroke-width="6.4" stroke-opacity="0.85"/>
<path d="M792.7,679.0 798.7,679.1 807.5,678.3 816.6,675.7 819.2,671.4 821.5,667.0" stroke="#ffff00" stroke-width="7.0" stroke-opacity="0.9"/>
<path d="M739.3,686.6 746.5,684.2 754.1,680.2 759.1,677.2 764.7,675.0" stroke="#ffff00" stroke-width="4.8" stroke-opacity="0.7"/>
<path d="M710.8,649.4 717.8,648.6 724.3,651.3" stroke="#ffff00" stroke-width="4.8" stroke-opacity="0.7"/>
<path d="M759.6,686.5 763.4,688.7" stroke="#ffff00" stroke-width="6.4" stroke-opacity="0.8"/>
<path d="M712.2,688.1 713.9,689.7" stroke="#ffff00" stroke-width="6.4" stroke-opacity="0.8"/>
<path d="M823.8,670.6 828.9,669.1 836.8,668.5 845.1,669.8 853.4,674.5" stroke="#ffff00" stroke-width="4.8" stroke-opacity="0.6"/>
<path d="M829.2,811.9 835.0,808.1 840.8,804.8" stroke="#ffff00" stroke-width="7.0" stroke-opacity="0.85"/>
<path d="M801.7,827.0 808.7,827.7 812.9,827.0 820.6,823.9 826.2,818.9 829.0,816.3" stroke="#ffff00" stroke-width="4.8" stroke-opacity="0.7"/>
<path d="M840.5,817.1 848.5,815.3 855.0,815.1" stroke="#ffff00" stroke-width="4.8" stroke-opacity="0.75"/>
<path d="M866.9,621.5 870.5,630.0 869.0,635.1" stroke="#ffff00" stroke-width="7.0" stroke-opacity="0.85"/>
<path d="M837.1,771.3 843.3,769.3 848.0,768.1" stroke="#ffff00" stroke-width="4.8" stroke-opacity="0.6"/>
<path d="M640.3,713.2 648.5,715.8 653.5,717.7 661.2,721.2" stroke="#ffff00" stroke-width="4.8" stroke-opacity="0.65"/>
<path d="M654.2,652.1 660.5,653.6 667.5,656.8 675.8,654.5 683.0,657.4" stroke="#ffff00" stroke-width="4.8" stroke-opacity="0.55"/>
<path d="M686.3,757.9 694.7,761.9 701.5,762.4 705.6,763.1 709.7,762.8 714.6,761.9 718.5,760.3 725.3,759.7 735.0,759.0" stroke="#ffff00" stroke-width="4.8" stroke-opacity="0.55"/>
<path d="M785.4,680.9 787.3,682.9" stroke="#ffff00" stroke-width="4.8" stroke-opacity="0.7"/>
<path d="M858.8,659.5 863.4,655.4 866.3,649.4" stroke="#ffff00" stroke-width="4.8" stroke-opacity="0.6"/>
<path d="M872.6,642.9 877.5,640.3" stroke="#ffff00" stroke-width="4.8" stroke-opacity="0.55"/>
<path d="M870.4,626.7 872.4,631.6" stroke="#ffff00" stroke-width="7.7" stroke-opacity="0.85"/>
<path d="M893.4,628.6 892.9,636.5" stroke="#ffff00" stroke-width="6.4" stroke-opacity="0.85"/>
<path d="M957.0,650.3 957.7,656.4" stroke="#ffff00" stroke-width="5.7" stroke-opacity="0.6"/>
<path d="M973.3,647.5 976.0,653.2" stroke="#ffff00" stroke-width="4.8" stroke-opacity="0.6"/>
<path d="M979.3,661.3 979.4,666.1" stroke="#ffff00" stroke-width="3.3" stroke-opacity="0.7"/>
<path d="M445.4,295.8 446.7,301.0 449.0,306.2" stroke="#00ffff" stroke-width="4.8" stroke-opacity="1.0"/>
<path d="M470.8,303.1 475.4,307.4 481.1,307.5 484.8,301.1" stroke="#00ffff" stroke-width="3.8" stroke-opacity="0.8"/>
<path d="M470.2,328.6 472.1,330.7" stroke="#00ffff" stroke-width="5.7" stroke-opacity="1.0"/>
<path d="M464.1,325.1 466.7,333.9 469.6,339.9 475.9,346.1 482.4,352.5 486.9,358.8" stroke="#00ffff" stroke-width="5.7" stroke-opacity="0.6"/>
<path d="M493.0,324.8 494.8,327.2" stroke="#00ffff" stroke-width="4.8" stroke-opacity="0.9"/>
<path d="M499.0,339.6 503.2,344.9" stroke="#00ffff" stroke-width="4.8" stroke-opacity="0.85"/>
<path d="M514.1,341.3 515.9,343.0" stroke="#00ffff" stroke-width="4.8" stroke-opacity="0.8"/>
<path d="M524.2,354.9 530.2,349.9" stroke="#00ffff" stroke-width="3.8" stroke-opacity="0.8"/>
<path d="M568.4,371.2 569.9,375.7" stroke="#00ffff" stroke-width="4.8" stroke-opacity="0.9"/>
<path d="M573.5,384.8 573.9,388.0" stroke="#00ffff" stroke-width="4.8" stroke-opacity="0.9"/>
<path d="M478.8,304.4 482.8,299.5" stroke="#00ffff" stroke-width="3.8" stroke-opacity="0.6"/>
<path d="M773.6,217.6 777.5,220.7 782.5,223.7" stroke="#00ffff" stroke-width="5.7" stroke-opacity="0.9"/>
<path d="M775.4,238.2 782.8,238.9 788.7,236.7" stroke="#00ffff" stroke-width="3.8" stroke-opacity="0.6"/>
<path d="M789.2,215.2 797.3,216.6 803.2,215.4" stroke="#00ffff" stroke-width="4.8" stroke-opacity="0.55"/>
<path d="M788.5,198.3 794.5,196.9 798.6,195.7" stroke="#00ffff" stroke-width="4.8" stroke-opacity="0.4"/>
<path d="M814.6,210.1 819.1,209.1 824.1,209.8 831.2,210.9 835.8,211.0 839.9,212.8 844.8,213.7" stroke="#00ffff" stroke-width="4.8" stroke-opacity="0.6"/>
<path d="M826.4,230.9 830.2,234.8 834.3,236.4" stroke="#00ffff" stroke-width="5.7" stroke-opacity="0.85"/>
<path d="M757.6,230.2 761.7,230.8" stroke="#00ffff" stroke-width="3.8" stroke-opacity="0.6"/>
<path d="M680.6,243.5 682.8,245.6" stroke="#00ffff" stroke-width="3.8" stroke-opacity="0.6"/>
<path d="M853.5,321.3 856.6,322.2" stroke="#00ffff" stroke-width="4.8" stroke-opacity="0.7"/>
<path d="M802.8,312.3 806.3,314.5" stroke="#00ffff" stroke-width="3.8" stroke-opacity="0.5"/>
<path d="M840.2,306.4 840.7,309.3" stroke="#00ffff" stroke-width="3.8" stroke-opacity="0.6"/>
<path d="M851.5,273.9 852.9,276.7" stroke="#00ffff" stroke-width="3.8" stroke-opacity="0.6"/>
<path d="M813.7,364.4 815.0,366.1" stroke="#00ffff" stroke-width="3.8" stroke-opacity="0.5"/>
<path d="M825.5,232.0 828.9,234.5 832.7,236.4" stroke="#00ffff" stroke-width="5.7" stroke-opacity="0.8"/>
<path d="M810.8,211.0 818.1,208.5 825.8,211.2 834.6,210.2" stroke="#00ffff" stroke-width="4.8" stroke-opacity="0.6"/>
<path d="M917.5,333.8 920.6,338.0 923.5,342.9" stroke="#00ffff" stroke-width="3.8" stroke-opacity="0.9"/>
<path d="M917.0,356.2 923.0,361.0 927.8,363.1" stroke="#00ffff" stroke-width="3.8" stroke-opacity="0.8"/>
<path d="M851.8,321.3 856.6,322.2" stroke="#00ffff" stroke-width="3.8" stroke-opacity="0.6"/>
<path d="M951.2,260.5 954.5,266.9 954.6,269.5" stroke="#00ffff" stroke-width="2.8" stroke-opacity="0.5"/>
<path d="M943.7,375.2 945.6,375.8" stroke="#00ffff" stroke-width="3.8" stroke-opacity="0.6"/>
<path d="M840.2,306.4 840.7,309.3" stroke="#00ffff" stroke-width="3.8" stroke-opacity="0.8"/>
<path d="M889.1,276.1 890.6,276.6" stroke="#00ffff" stroke-width="3.8" stroke-opacity="0.5"/>
<path d="M462.4,520.5 463.2,526.7 460.7,529.1" stroke="#00ffff" stroke-width="2.8" stroke-opacity="0.5"/>
<path d="M528.0,512.3 529.1,514.6" stroke="#00ffff" stroke-width="3.8" stroke-opacity="0.5"/>
<path d="M443.6,573.2 445.1,577.8" stroke="#00ffff" stroke-width="2.8" stroke-opacity="0.45"/>
<path d="M473.5,556.7 474.2,560.9" stroke="#00ffff" stroke-width="2.8" stroke-opacity="0.4"/>
<path d="M562.2,629.3 565.2,630.6" stroke="#00ffff" stroke-width="3.8" stroke-opacity="0.6"/>
<path d="M556.0,422.4 557.1,425.6" stroke="#00ffff" stroke-width="2.8" stroke-opacity="0.4"/>
<path d="M930.9,505.5 933.1,509.2 931.6,514.8" stroke="#00ffff" stroke-width="3.3" stroke-opacity="0.7"/>
<path d="M950.5,458.3 951.5,460.3" stroke="#00ffff" stroke-width="4.8" stroke-opacity="0.8"/>
<path d="M918.6,470.7 919.3,472.7" stroke="#00ffff" stroke-width="3.8" stroke-opacity="0.6"/>
<path d="M877.0,612.6 878.9,616.3" stroke="#00ffff" stroke-width="4.8" stroke-opacity="0.8"/>
<path d="M899.5,616.1 901.3,621.6" stroke="#00ffff" stroke-width="2.8" stroke-opacity="0.7"/>
<path d="M861.2,625.1 862.5,628.1" stroke="#00ffff" stroke-width="3.8" stroke-opacity="0.5"/>
<path d="M991.9,594.6 992.6,599.1" stroke="#00ffff" stroke-width="3.8" stroke-opacity="0.55"/>
<path d="M908.6,537.1 909.1,539.2" stroke="#00ffff" stroke-width="3.8" stroke-opacity="0.5"/>
<path d="M563.4,629.4 566.6,630.6" stroke="#00ffff" stroke-width="3.8" stroke-opacity="0.6"/>
<path d="M569.1,647.7 570.0,651.3" stroke="#00ffff" stroke-width="3.8" stroke-opacity="0.6"/>
<path d="M583.4,666.0 584.9,670.6" stroke="#00ffff" stroke-width="3.8" stroke-opacity="0.6"/>
<path d="M610.0,702.2 612.3,704.0" stroke="#00ffff" stroke-width="3.8" stroke-opacity="0.6"/>
<path d="M541.3,628.1 544.2,631.3" stroke="#00ffff" stroke-width="3.8" stroke-opacity="0.4"/>
<path d="M773.2,677.1 776.6,678.8" stroke="#00ffff" stroke-width="5.7" stroke-opacity="1.0"/>
<path d="M796.6,670.8 799.7,672.8" stroke="#00ffff" stroke-width="5.7" stroke-opacity="0.95"/>
<path d="M768.0,669.7 768.4,672.1" stroke="#00ffff" stroke-width="3.8" stroke-opacity="0.6"/>
<path d="M810.2,668.6 813.3,670.0" stroke="#00ffff" stroke-width="3.8" stroke-opacity="0.6"/>
<path d="M714.1,696.5 715.3,699.1" stroke="#00ffff" stroke-width="3.8" stroke-opacity="0.6"/>
<path d="M825.3,684.2 827.1,687.2" stroke="#00ffff" stroke-width="3.8" stroke-opacity="0.6"/>
<path d="M838.7,812.5 843.4,814.6" stroke="#00ffff" stroke-width="3.8" stroke-opacity="0.75"/>
<path d="M861.2,625.1 862.5,628.1" stroke="#00ffff" stroke-width="3.8" stroke-opacity="0.7"/>
<path d="M771.5,743.1 772.9,744.7" stroke="#00ffff" stroke-width="3.8" stroke-opacity="0.5"/>
<path d="M846.2,820.9 848.9,822.4" stroke="#00ffff" stroke-width="3.8" stroke-opacity="0.5"/>
<path d="M741.3,680.2 744.2,680.8" stroke="#00ffff" stroke-width="3.8" stroke-opacity="0.4"/></g></g>
<clipPath id="w0"><path d="M701.4,502.4 699.8,131.3 797.5,143.9 888.4,181.8Z"/></clipPath>
<clipPath id="w1"><path d="M701.4,502.4 885.6,180.2 963.8,240.0 1023.6,318.2Z"/></clipPath>
<clipPath id="w2"><path d="M701.4,502.4 1022.0,315.4 1059.9,406.3 1072.5,504.0Z"/></clipPath>
<clipPath id="w3"><path d="M701.4,502.4 1072.5,500.8 1059.9,598.5 1022.0,689.4Z"/></clipPath>
<clipPath id="w4"><path d="M701.4,502.4 1023.6,686.6 963.8,764.8 885.6,824.6Z"/></clipPath>
<clipPath id="w5"><path d="M701.4,502.4 888.4,823.0 797.5,860.9 699.8,873.5Z"/></clipPath>
<clipPath id="w6"><path d="M701.4,502.4 703.0,873.5 605.3,860.9 514.4,823.0Z"/></clipPath>
<clipPath id="w7"><path d="M701.4,502.4 517.2,824.6 439.0,764.8 379.2,686.6Z"/></clipPath>
<clipPath id="w8"><path d="M701.4,502.4 380.8,689.4 342.9,598.5 330.3,500.8Z"/></clipPath>
<clipPath id="w9"><path d="M701.4,502.4 330.3,504.0 342.9,406.3 380.8,315.4Z"/></clipPath>
<clipPath id="w10"><path d="M701.4,502.4 379.2,318.2 439.0,240.0 517.2,180.2Z"/></clipPath>
<clipPath id="w11"><path d="M701.4,502.4 514.4,181.8 605.3,143.9 703.0,131.3Z"/></clipPath>
</defs>
<g clip-path="url(#w0)"><g transform="rotate(15.0 701.4 502.4)" filter="url(#fld0)"><use href="#srcb" transform="rotate(-15.0 701.4 502.4)"/></g></g>
<g clip-path="url(#w1)"><g transform="rotate(45.0 701.4 502.4)" filter="url(#fld1)"><use href="#srcb" transform="rotate(-45.0 701.4 502.4)"/></g></g>
<g clip-path="url(#w2)"><g transform="rotate(75.0 701.4 502.4)" filter="url(#fld2)"><use href="#srcb" transform="rotate(-75.0 701.4 502.4)"/></g></g>
<g clip-path="url(#w3)"><g transform="rotate(105.0 701.4 502.4)" filter="url(#fld3)"><use href="#srcb" transform="rotate(-105.0 701.4 502.4)"/></g></g>
<g clip-path="url(#w4)"><g transform="rotate(135.0 701.4 502.4)" filter="url(#fld4)"><use href="#srcb" transform="rotate(-135.0 701.4 502.4)"/></g></g>
<g clip-path="url(#w5)"><g transform="rotate(165.0 701.4 502.4)" filter="url(#fld5)"><use href="#srcb" transform="rotate(-165.0 701.4 502.4)"/></g></g>
<g clip-path="url(#w6)"><g transform="rotate(195.0 701.4 502.4)" filter="url(#fld6)"><use href="#srcb" transform="rotate(-195.0 701.4 502.4)"/></g></g>
<g clip-path="url(#w7)"><g transform="rotate(225.0 701.4 502.4)" filter="url(#fld7)"><use href="#srcb" transform="rotate(-225.0 701.4 502.4)"/></g></g>
<g clip-path="url(#w8)"><g transform="rotate(255.0 701.4 502.4)" filter="url(#fld8)"><use href="#srcb" transform="rotate(-255.0 701.4 502.4)"/></g></g>
<g clip-path="url(#w9)"><g transform="rotate(285.0 701.4 502.4)" filter="url(#fld9)"><use href="#srcb" transform="rotate(-285.0 701.4 502.4)"/></g></g>
<g clip-path="url(#w10)"><g transform="rotate(315.0 701.4 502.4)" filter="url(#fld10)"><use href="#srcb" transform="rotate(-315.0 701.4 502.4)"/></g></g>
<g clip-path="url(#w11)"><g transform="rotate(345.0 701.4 502.4)" filter="url(#fld11)"><use href="#srcb" transform="rotate(-345.0 701.4 502.4)"/></g></g>
<g filter="url(#fldm)"><use href="#srcb"/><use href="#strk"/></g>
<circle cx="701.4" cy="502.4" r="64" fill="#fff"/>
<path d="M607.0,512.0 620.0,514.0 630.0,530.0 629.0,542.0 624.0,548.0 620.0,538.0 618.0,526.0 610.0,520.0Z M612.4,465.6 618.0,466.6 618.6,478.0 614.4,479.4Z M625.0,549.0 629.0,553.0 640.0,557.6 646.4,562.4 643.0,558.0 636.0,553.0 628.0,548.6Z" fill="#fff"/>
<line x1="739.3" y1="397.0" x2="809.1" y2="203.2" stroke="#fff" stroke-width="0.8" stroke-opacity="0.85"/>
<path d="M581.0,420.0 582.4,423.0 583.6,427.0 583.0,430.0 584.4,435.0 587.0,441.0 590.0,447.0 592.0,451.0 597.0,452.4 601.0,451.0 607.0,452.0 613.0,454.0 619.0,457.0 624.0,460.0 629.0,464.0 633.0,469.0 637.0,474.0 640.0,470.0 644.0,467.0 649.4,463.8 654.8,460.2 659.4,455.8 662.8,451.6 664.6,447.0 666.0,442.0 668.0,435.0 670.0,428.0 673.0,421.0 677.0,414.0 681.0,409.0 680.0,405.0 683.0,403.0 685.0,405.6 687.0,402.0 689.6,403.0 691.0,400.0 693.6,401.6 696.0,397.6 698.4,397.0 699.6,401.0 703.0,402.0 707.0,398.4 712.0,397.0 718.0,397.0 726.0,399.0 734.0,401.0 744.0,403.6 752.0,406.0 758.0,409.0 763.0,410.0 765.0,406.4 767.0,410.0 769.0,416.0 773.0,417.0 779.0,415.0 784.0,415.0 789.0,418.0 793.0,422.0 796.0,425.0 800.0,422.0 805.0,423.0 808.0,427.0 809.0,432.0 807.0,437.0 809.0,442.0 811.0,448.0 812.0,454.0 814.0,459.6 809.0,463.0 804.0,465.6 801.0,467.0 803.0,469.0 807.0,471.0 809.0,475.0 813.0,478.0 818.0,482.0 822.0,487.0 825.0,492.0 827.0,498.0 828.0,504.0 827.6,510.0 828.0,516.0 827.0,522.0 828.0,528.0 826.0,533.0 823.0,538.0 821.0,543.0 822.4,548.0 822.0,553.0 818.0,559.0 814.0,564.0 810.0,568.0 808.0,573.0 805.0,579.0 802.0,582.0 800.0,587.0 797.6,583.0 799.0,587.0 796.0,591.0 791.0,595.0 786.0,598.0 780.0,600.4 774.0,602.0 768.0,602.4 763.0,604.0 758.0,605.0 753.0,606.0 748.0,605.6 743.0,604.4 738.0,603.0 732.0,601.0 726.0,599.0 721.0,597.0 718.0,594.0 717.6,590.0 720.0,586.0 722.0,581.0 723.6,576.0 723.0,570.0 721.0,566.0 719.6,562.0 720.4,558.0 720.0,552.0 717.0,546.0 713.0,541.0 709.0,537.0 705.0,535.0 701.0,534.4 697.0,532.0 694.0,529.0 692.0,525.0 689.6,524.0 687.6,526.0 688.0,530.0 685.0,535.0 682.0,540.0 679.0,543.0 675.0,543.6 673.6,546.0 676.0,552.0 677.6,558.0 677.0,563.0 675.6,566.0 673.0,565.0 671.6,560.0 669.0,559.6 666.0,561.0 664.0,563.0 673.0,565.0 672.0,562.0 669.0,560.0 664.0,562.0 662.0,565.0 658.0,563.6 652.0,562.0 646.0,560.0 642.0,557.0 640.0,552.0 635.0,550.0 630.0,548.0 626.0,550.0 625.0,547.0 627.0,545.0 628.0,541.0 623.6,538.0 624.0,533.0 627.0,529.0 625.0,527.0 622.0,530.0 620.0,528.0 621.0,522.0 620.0,517.0 617.0,518.0 612.4,519.6 614.0,515.0 612.4,512.0 610.0,515.0 606.4,519.0 605.0,515.0 608.0,510.0 610.0,504.0 609.6,498.0 609.0,492.0 611.0,487.0 610.0,483.0 613.0,480.0 616.0,478.0 617.6,474.0 617.0,467.0 613.6,462.4 608.0,461.0 600.0,460.4 593.6,459.6 591.0,457.6 588.0,459.4 585.6,457.6 586.6,454.4 585.6,451.0 583.0,448.0 580.4,445.0 578.4,442.0 577.6,437.0 579.0,433.0 578.4,429.0 579.0,424.0 581.0,420.0Z M431.6,277.0 434.0,282.0 436.0,288.0 438.0,295.0 440.4,303.0 442.4,310.0 441.6,317.0 440.0,321.0 438.0,324.0 435.0,327.0 431.0,330.0 427.0,331.0 426.0,333.0 429.0,334.0 434.0,332.0 438.0,331.0 442.4,333.0 446.0,336.0 449.0,341.0 451.0,346.0 450.0,352.0 447.6,357.0 445.6,361.0 444.4,366.0 447.0,369.0 451.0,371.0 454.0,374.0 454.4,378.0 451.0,381.0 449.0,384.0 452.0,386.0 457.0,386.0 458.0,383.0 461.0,382.4 463.0,385.0 461.6,389.0 464.0,392.0 468.0,394.0 471.0,398.0 470.4,402.0 473.0,405.6 477.0,407.6 482.0,405.6 486.0,405.0 488.4,408.0 490.0,413.0 494.0,418.0 498.0,423.0 503.0,426.0 510.0,428.0 517.0,427.6 522.0,425.0 525.6,421.6 526.4,426.0 525.0,431.0 522.0,435.0 518.0,439.0 513.0,443.0 508.0,446.0 504.0,448.0 499.0,447.0 494.0,445.0 489.0,446.0 486.0,444.0 482.0,443.0 477.0,441.0 472.0,439.0 468.0,441.0 464.0,437.0 459.0,434.0 454.0,432.0 449.0,430.0 444.0,427.0 438.0,425.0 432.0,422.4 426.0,420.0 420.0,418.0 414.0,416.0 410.0,413.0 405.0,409.0 399.0,405.0 393.0,401.0 387.0,398.0 380.0,395.0 374.0,393.0 368.4,391.0 340.0,391.0 340.0,262.0 426.0,264.0Z M517.0,398.0 518.0,393.0 520.0,389.6 522.4,389.0 523.0,392.0 521.6,396.0 519.6,399.0Z M805.4,166.2 806.0,171.2 807.0,176.0 806.6,180.8 806.0,185.0 803.6,186.2 804.2,190.4 804.6,194.6 805.4,196.4 807.2,198.8 808.4,201.2 811.4,202.4 814.4,201.4 818.0,202.4 821.6,203.0 825.2,202.6 828.8,204.2 832.4,206.0 835.4,208.2 839.0,209.0 843.2,209.6 848.0,210.8 852.8,210.6 857.6,209.6 862.4,208.4 867.2,206.6 872.0,204.8 876.8,203.0 880.4,201.2 882.8,199.8 895.0,190.0 800.0,150.0Z M1021.0,651.0 1014.0,650.0 1007.0,649.0 1001.0,647.0 998.0,643.0 994.0,640.0 989.0,641.6 985.0,645.0 983.0,650.0 982.0,656.0 983.0,661.0 980.0,667.0 977.0,673.0 974.0,679.0 973.6,685.0 975.0,691.0 974.0,697.0 972.0,702.0 970.0,707.0 968.0,713.0 965.0,718.0 962.0,723.0 958.0,727.0 953.0,730.0 948.0,733.0 943.0,735.0 939.0,733.6 934.0,732.0 929.0,731.0 925.0,729.6 924.0,736.0 924.4,743.0 923.6,748.0 921.6,745.0 920.0,740.0 918.4,735.0 917.0,734.0 915.6,738.0 917.0,742.4 914.4,742.0 912.4,738.0 910.0,737.0 907.0,739.0 903.0,738.0 899.0,735.6 894.0,734.0 889.0,733.6 885.0,735.0 881.0,737.0 877.0,738.0 875.0,741.0 873.6,745.0 871.0,746.4 868.0,744.4 864.0,744.0 861.6,747.0 860.0,752.0 858.0,757.0 855.0,760.0 853.0,763.0 854.0,769.0 856.0,775.0 857.0,782.0 857.6,790.0 858.0,798.0 857.6,806.0 859.0,813.0 860.0,817.0 870.0,850.0 1000.0,790.0 1070.0,650.0Z M844.0,723.0 848.0,720.6 852.0,721.6 856.0,724.0 860.0,727.0 863.0,730.0 861.0,732.4 857.0,733.0 854.0,735.0 851.0,738.0 848.0,738.0 846.0,734.0 844.4,729.0Z M909.0,733.0 912.0,729.0 915.6,728.4 914.4,731.6 911.0,734.4Z M742.8,747.0 744.6,743.4 747.6,741.0 751.2,740.2 754.8,740.6 757.8,741.4 759.4,743.4 758.6,747.0 757.2,750.6 755.4,754.2 752.4,757.2 749.4,760.8 746.4,763.8 744.0,766.2 742.2,769.2 741.0,772.8 739.8,776.4 738.0,780.0 736.2,777.6 735.0,776.4 733.2,778.2 731.4,779.4 729.6,777.6 728.4,774.6 729.6,771.0 731.4,767.4 733.2,763.8 735.0,760.8 737.4,757.8 739.8,754.2 741.6,750.6Z M722.4,777.0 724.8,775.8 726.6,777.6 726.0,781.2 726.6,784.8 729.0,787.2 732.0,788.4 733.0,790.2 730.8,792.0 729.0,795.0 728.4,799.2 728.6,802.8 730.2,806.4 732.6,810.0 735.0,813.0 737.4,816.0 739.8,819.0 741.6,820.8 739.2,819.6 736.2,817.2 733.2,814.8 730.8,811.8 729.0,808.2 727.8,805.8 726.6,808.2 724.8,807.6 724.2,804.6 722.4,802.2 719.4,801.0 716.4,801.6 713.4,803.4 710.4,802.8 709.2,799.8 710.2,796.8 712.2,794.4 715.2,792.6 717.0,790.2 718.2,786.6 719.4,783.0 720.6,779.4Z M594.0,465.0 600.0,463.6 607.0,464.0 612.4,466.0 614.4,470.0 614.0,475.0 611.0,478.0 606.0,479.0 603.0,477.6 605.0,474.0 609.0,472.0 608.0,469.0 603.0,468.0 598.0,468.4 594.4,467.6Z M596.4,473.6 598.4,472.0 600.4,474.0 599.6,476.4 597.2,476.0Z" fill="#808080" stroke="#000" stroke-width="1.2" stroke-linejoin="round"/>
<path d="M652.4,460.4 658.0,457.6 662.4,453.6 663.4,455.2 659.2,459.2 653.6,462.2Z" fill="#fff"/>
<path d="M507.4,426.0 507.9,433.1 509.6,436.6 512.3,433.1 513.2,431.3 M507.9,437.5 511.4,440.2 514.1,436.6 515.4,434.9 M503.5,447.7 507.9,443.7 512.3,440.2 M439.3,421.2 447.7,426.0 448.6,430.4 440.2,426.5 439.3,421.2 M452.1,430.4 461.0,430.9 456.5,434.0 452.1,430.4 M486.6,443.3 490.2,445.5 491.9,443.7 495.5,447.3 499.0,445.5" fill="none" stroke="#000" stroke-width="1" stroke-linejoin="round"/>
<path d="M751.0,738.0 751.8,735.4 752.6,738.0 751.9,739.4Z M579.5,344.2 582.0,343.2 585.5,343.6 586.0,345.0 583.0,345.6 580.0,345.8Z M585.0,390.5 587.0,389.5 588.0,391.0 586.0,392.0Z M570.6,422.5 571.8,422.8 572.4,428.5 571.2,429.0Z M911.0,421.0 913.5,419.5 916.0,420.5 915.5,424.0 913.0,426.0 911.0,425.0Z" fill="#333" stroke="#000" stroke-width="0.9" stroke-linejoin="round"/>
<circle class="grid" cx="701.4" cy="502.4" r="311.1"/>
<circle class="grid" cx="701.4" cy="502.4" r="234.4"/>
<circle class="grid" cx="701.4" cy="502.4" r="163.6"/>
<circle class="grid" cx="701.4" cy="502.4" r="96.7"/>
<circle class="grid" cx="701.4" cy="502.4" r="32.0"/>
<line class="grid" x1="701.4" y1="502.4" x2="701.4" y2="149.9"/>
<line class="grid" x1="701.4" y1="502.4" x2="877.6" y2="197.1"/>
<line class="grid" x1="701.4" y1="502.4" x2="1006.7" y2="326.1"/>
<line class="grid" x1="701.4" y1="502.4" x2="1053.9" y2="502.4"/>
<line class="grid" x1="701.4" y1="502.4" x2="1006.7" y2="678.6"/>
<line class="grid" x1="701.4" y1="502.4" x2="877.6" y2="807.7"/>
<line class="grid" x1="701.4" y1="502.4" x2="701.4" y2="854.9"/>
<line class="grid" x1="701.4" y1="502.4" x2="525.1" y2="807.7"/>
<line class="grid" x1="701.4" y1="502.4" x2="396.1" y2="678.7"/>
<line class="grid" x1="701.4" y1="502.4" x2="348.9" y2="502.4"/>
<line class="grid" x1="701.4" y1="502.4" x2="396.1" y2="326.1"/>
<line class="grid" x1="701.4" y1="502.4" x2="525.1" y2="197.1"/>
<line x1="701.4" y1="494.9" x2="701.4" y2="509.9" stroke="#000" stroke-width="0.7"/>
<line x1="698.5" y1="495.5" x2="704.3" y2="509.3" stroke="#000" stroke-width="0.7"/>
<line x1="696.1" y1="497.1" x2="706.7" y2="507.7" stroke="#000" stroke-width="0.7"/>
<line x1="694.5" y1="499.5" x2="708.3" y2="505.3" stroke="#000" stroke-width="0.7"/>
<line x1="693.9" y1="502.4" x2="708.9" y2="502.4" stroke="#000" stroke-width="0.7"/>
<line x1="694.5" y1="505.3" x2="708.3" y2="499.5" stroke="#000" stroke-width="0.7"/>
<line x1="696.1" y1="507.7" x2="706.7" y2="497.1" stroke="#000" stroke-width="0.7"/>
<line x1="698.5" y1="509.3" x2="704.3" y2="495.5" stroke="#000" stroke-width="0.7"/>
<line x1="701.4" y1="502.4" x2="701.4" y2="534.4" stroke="#000" stroke-width="1"/>
</g>
<circle cx="701.4" cy="502.4" r="352.5" fill="none" stroke="#000" stroke-width="1.3"/>
<g opacity="0.999">
<line x1="701.4" y1="149.9" x2="701.4" y2="142.9" stroke="#000" stroke-width="1"/>
<text class="lab" transform="translate(701.4,139.9) rotate(0)" y="0">0<tspan font-size="13.3" dy="-7" dx="0.5">o</tspan><tspan dy="7" dx="1.5"></tspan></text>
<line x1="877.6" y1="197.1" x2="881.1" y2="191.1" stroke="#000" stroke-width="1"/>
<text class="lab" transform="translate(882.6,188.5) rotate(30)" y="0">30<tspan font-size="13.3" dy="-7" dx="0.5">o</tspan><tspan dy="7" dx="1.5">E</tspan></text>
<line x1="1006.7" y1="326.1" x2="1012.7" y2="322.6" stroke="#000" stroke-width="1"/>
<text class="lab" transform="translate(1015.3,321.1) rotate(60)" y="0">60<tspan font-size="13.3" dy="-7" dx="0.5">o</tspan><tspan dy="7" dx="1.5">E</tspan></text>
<line x1="1053.9" y1="502.4" x2="1060.9" y2="502.4" stroke="#000" stroke-width="1"/>
<text class="lab" transform="translate(1063.9,502.4) rotate(90)" y="0">90<tspan font-size="13.3" dy="-7" dx="0.5">o</tspan><tspan dy="7" dx="1.5">E</tspan></text>
<line x1="1006.7" y1="678.6" x2="1012.7" y2="682.1" stroke="#000" stroke-width="1"/>
<text class="lab" transform="translate(1016.2,684.1) rotate(-60)" y="18.5">120<tspan font-size="13.3" dy="-7" dx="0.5">o</tspan><tspan dy="7" dx="1.5">E</tspan></text>
<line x1="877.6" y1="807.7" x2="881.1" y2="813.7" stroke="#000" stroke-width="1"/>
<text class="lab" transform="translate(883.1,817.2) rotate(-30)" y="18.5">150<tspan font-size="13.3" dy="-7" dx="0.5">o</tspan><tspan dy="7" dx="1.5">E</tspan></text>
<line x1="701.4" y1="854.9" x2="701.4" y2="861.9" stroke="#000" stroke-width="1"/>
<text class="lab" transform="translate(701.4,865.9) rotate(0)" y="18.5">180<tspan font-size="13.3" dy="-7" dx="0.5">o</tspan><tspan dy="7" dx="1.5">W</tspan></text>
<line x1="525.1" y1="807.7" x2="521.6" y2="813.7" stroke="#000" stroke-width="1"/>
<text class="lab" transform="translate(519.6,817.2) rotate(30)" y="18.5">150<tspan font-size="13.3" dy="-7" dx="0.5">o</tspan><tspan dy="7" dx="1.5">W</tspan></text>
<line x1="396.1" y1="678.7" x2="390.1" y2="682.2" stroke="#000" stroke-width="1"/>
<text class="lab" transform="translate(386.6,684.2) rotate(60)" y="18.5">120<tspan font-size="13.3" dy="-7" dx="0.5">o</tspan><tspan dy="7" dx="1.5">W</tspan></text>
<line x1="348.9" y1="502.4" x2="341.9" y2="502.4" stroke="#000" stroke-width="1"/>
<text class="lab" transform="translate(338.9,502.4) rotate(-90)" y="0">90<tspan font-size="13.3" dy="-7" dx="0.5">o</tspan><tspan dy="7" dx="1.5">W</tspan></text>
<line x1="396.1" y1="326.1" x2="390.1" y2="322.6" stroke="#000" stroke-width="1"/>
<text class="lab" transform="translate(387.5,321.1) rotate(-60)" y="0">60<tspan font-size="13.3" dy="-7" dx="0.5">o</tspan><tspan dy="7" dx="1.5">W</tspan></text>
<line x1="525.1" y1="197.1" x2="521.6" y2="191.1" stroke="#000" stroke-width="1"/>
<text class="lab" transform="translate(520.1,188.5) rotate(-30)" y="0">30<tspan font-size="13.3" dy="-7" dx="0.5">o</tspan><tspan dy="7" dx="1.5">W</tspan></text>
<line x1="694" y1="534.1" x2="706.5" y2="534.4" stroke="#000" stroke-width="1"/>
<text class="plab" x="716" y="545">84<tspan font-size="13.3" dy="-7" dx="0.5">o</tspan><tspan dy="7" dx="1.5">S</tspan></text>
<line x1="690" y1="598.8" x2="703" y2="599.1" stroke="#000" stroke-width="1"/>
<text class="plab" x="714" y="610">72<tspan font-size="13.3" dy="-7" dx="0.5">o</tspan><tspan dy="7" dx="1.5">S</tspan></text>
<line x1="687" y1="665.7" x2="701" y2="666.0" stroke="#000" stroke-width="1"/>
<text class="plab" x="709" y="676">60<tspan font-size="13.3" dy="-7" dx="0.5">o</tspan><tspan dy="7" dx="1.5">S</tspan></text>
<line x1="683.5" y1="736.5" x2="698" y2="736.8" stroke="#000" stroke-width="1"/>
<text class="plab" x="705.5" y="746.5">48<tspan font-size="13.3" dy="-7" dx="0.5">o</tspan><tspan dy="7" dx="1.5">S</tspan></text>
<line x1="680" y1="813.2" x2="693" y2="813.5" stroke="#000" stroke-width="1"/>
<text class="plab" x="702.5" y="824.5">36<tspan font-size="13.3" dy="-7" dx="0.5">o</tspan><tspan dy="7" dx="1.5">S</tspan></text>
<rect x="376.5" y="911.5" width="658" height="19" fill="url(#cbg)" stroke="#262626" stroke-width="1"/>
<text class="cb" x="376.3" y="956">-0.06</text>
<line x1="486.0" y1="924" x2="486.0" y2="930.5" stroke="#262626" stroke-width="1"/>
<text class="cb" x="486.0" y="956">-0.04</text>
<line x1="595.7" y1="924" x2="595.7" y2="930.5" stroke="#262626" stroke-width="1"/>
<text class="cb" x="595.7" y="956">-0.02</text>
<line x1="705.4" y1="924" x2="705.4" y2="930.5" stroke="#262626" stroke-width="1"/>
<text class="cb" x="705.4" y="956">0</text>
<line x1="815.1" y1="924" x2="815.1" y2="930.5" stroke="#262626" stroke-width="1"/>
<text class="cb" x="815.1" y="956">0.02</text>
<line x1="924.8" y1="924" x2="924.8" y2="930.5" stroke="#262626" stroke-width="1"/>
<text class="cb" x="924.8" y="956">0.04</text>
<text class="cb" x="1034.5" y="956">0.06</text>
<text class="cb" x="705.5" y="979">°C/km</text>
</g>
</svg></body></html>
